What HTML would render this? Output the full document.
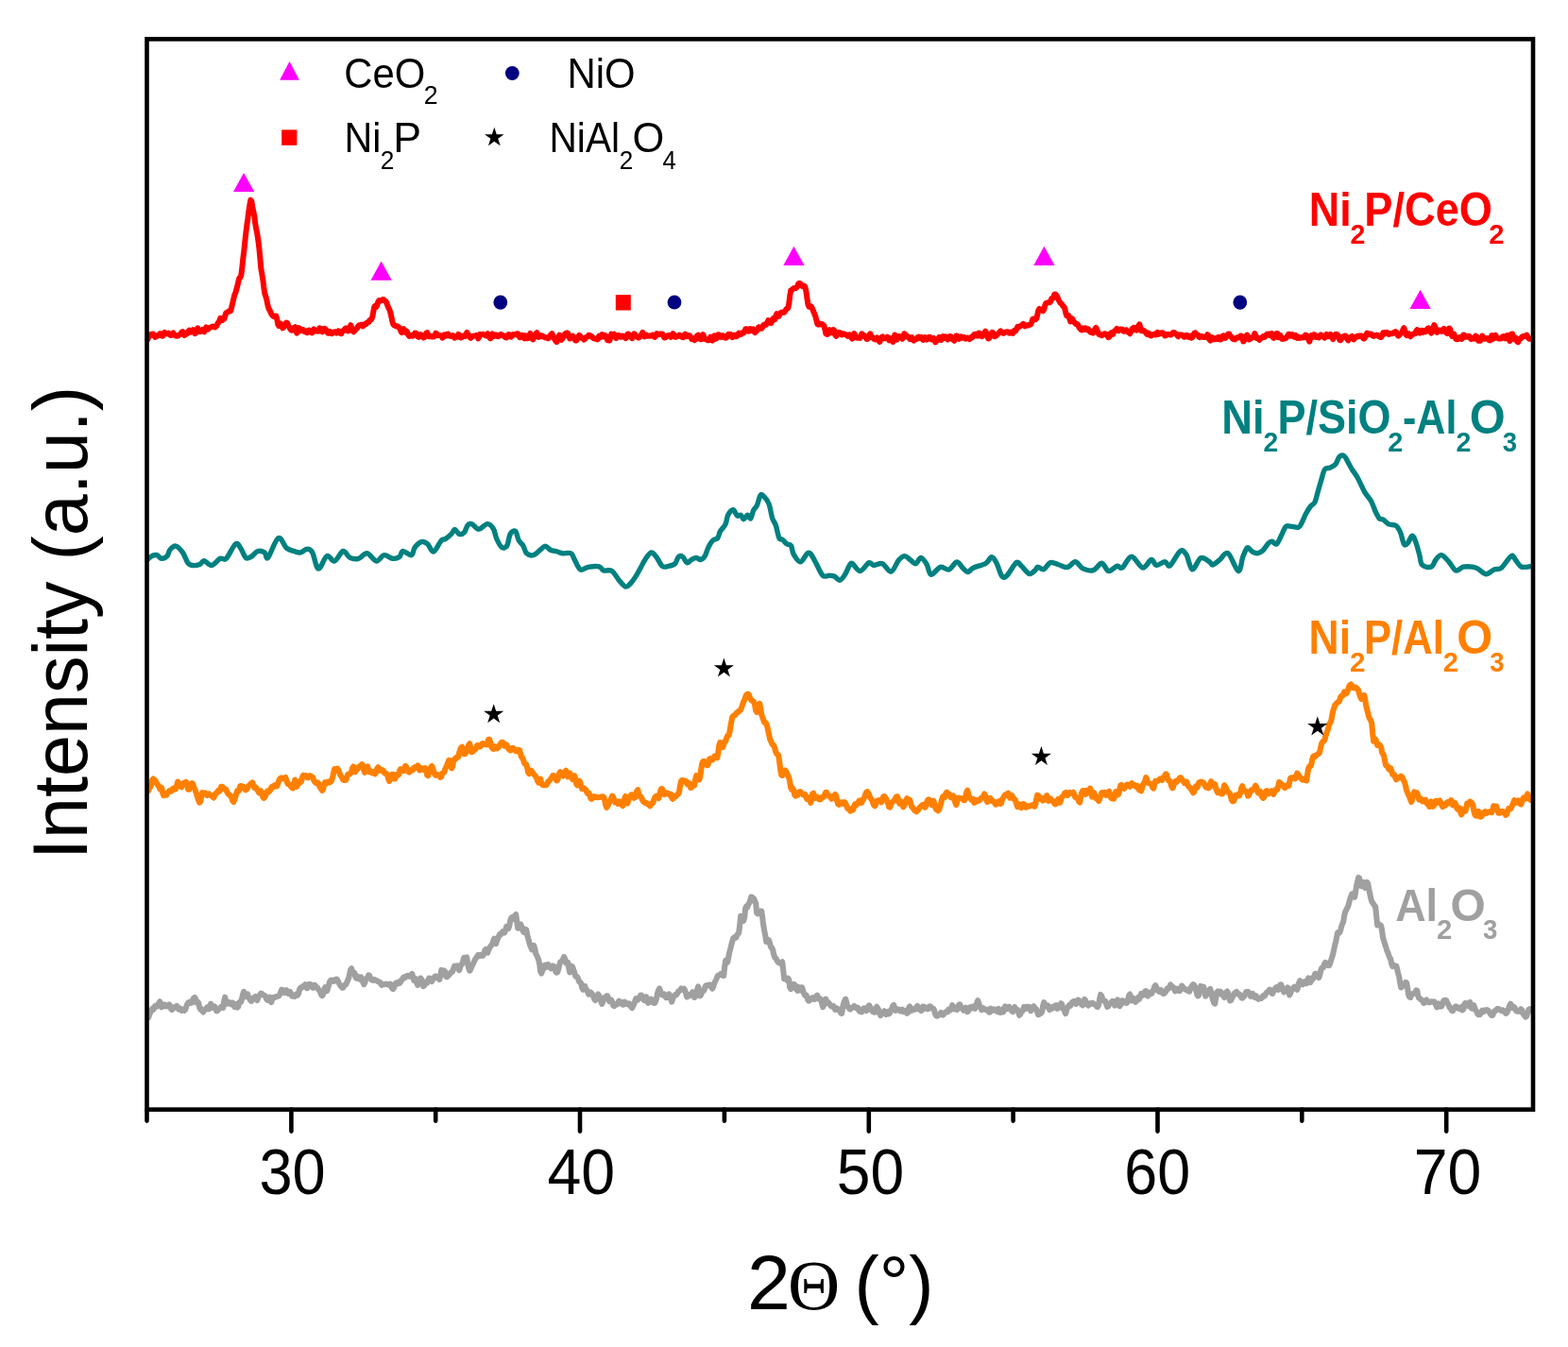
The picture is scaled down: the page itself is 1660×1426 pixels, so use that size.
<!DOCTYPE html>
<html><head><meta charset="utf-8"><title>XRD patterns</title>
<style>html,body{margin:0;padding:0;background:#fff;}svg{display:block;}</style>
</head><body>
<svg width="1660" height="1426" viewBox="0 0 1660 1426">
<rect width="1660" height="1426" fill="#fff"/>
<path d="M157.2,1077.2L158.2,1073.8 159.2,1072.0 160.2,1069.2 161.2,1067.8 162.2,1068.8 163.2,1066.8 164.2,1064.9 165.2,1065.9 166.2,1065.6 167.2,1063.8 168.2,1061.9 169.2,1060.3 170.2,1063.2 171.2,1066.2 172.2,1065.5 173.2,1063.4 174.2,1063.5 175.2,1065.1 176.2,1065.5 177.2,1064.8 178.2,1063.6 179.2,1063.3 180.2,1065.4 181.2,1068.4 182.2,1068.9 183.2,1067.7 184.2,1066.3 185.2,1065.9 186.2,1066.4 187.2,1064.9 188.2,1066.7 189.2,1068.6 190.2,1067.2 191.2,1068.9 192.2,1069.8 193.2,1068.5 194.2,1068.9 195.2,1069.9 196.2,1068.9 197.2,1065.8 198.2,1063.1 199.2,1061.6 200.2,1060.9 201.2,1061.0 202.2,1061.8 203.2,1061.4 204.2,1058.0 205.2,1056.4 206.2,1055.9 207.2,1057.7 208.2,1061.5 209.2,1060.6 210.2,1061.8 211.2,1066.7 212.2,1068.6 213.2,1068.1 214.2,1070.2 215.2,1071.4 216.2,1069.3 217.2,1069.1 218.2,1068.4 219.2,1066.3 220.2,1066.0 221.2,1068.2 222.2,1066.4 223.2,1062.6 224.2,1064.6 225.2,1066.7 226.2,1065.1 227.2,1065.4 228.2,1067.5 229.2,1070.3 230.2,1070.0 231.2,1068.8 232.2,1067.8 233.2,1067.1 234.2,1065.8 235.2,1066.5 236.2,1066.9 237.2,1060.0 238.2,1055.7 239.2,1059.8 240.2,1062.6 241.2,1062.3 242.2,1061.0 243.2,1061.2 244.2,1062.9 245.2,1063.3 246.2,1061.5 247.2,1062.6 248.2,1065.8 249.2,1064.1 250.2,1063.2 251.2,1066.6 252.2,1065.7 253.2,1061.3 254.2,1060.5 255.2,1060.6 256.2,1056.9 257.2,1052.5 258.2,1049.8 259.2,1052.4 260.2,1055.2 261.2,1053.4 262.2,1052.5 263.2,1055.4 264.2,1057.5 265.2,1059.2 266.2,1059.8 267.2,1058.1 268.2,1056.9 269.2,1055.7 270.2,1055.0 271.2,1057.6 272.2,1059.0 273.2,1056.7 274.2,1054.4 275.2,1053.1 276.2,1051.7 277.2,1052.0 278.2,1053.1 279.2,1053.8 280.2,1053.9 281.2,1054.8 282.2,1057.8 283.2,1058.7 284.2,1056.0 285.2,1055.7 286.2,1059.5 287.2,1061.0 288.2,1058.0 289.2,1055.8 290.2,1056.1 291.2,1056.0 292.2,1055.1 293.2,1055.0 294.2,1054.7 295.2,1054.3 296.2,1053.0 297.2,1050.0 298.2,1047.7 299.2,1047.9 300.2,1049.8 301.2,1051.0 302.2,1049.7 303.2,1048.1 304.2,1050.1 305.2,1051.9 306.2,1050.9 307.2,1050.1 308.2,1051.9 309.2,1054.7 310.2,1054.7 311.2,1053.7 312.2,1054.8 313.2,1053.6 314.2,1052.3 315.2,1053.5 316.2,1051.3 317.2,1047.0 318.2,1045.7 319.2,1045.9 320.2,1044.4 321.2,1044.8 322.2,1044.2 323.2,1042.1 324.2,1043.9 325.2,1046.2 326.2,1044.1 327.2,1041.8 328.2,1041.8 329.2,1042.4 330.2,1044.3 331.2,1045.7 332.2,1044.5 333.2,1042.8 334.2,1043.9 335.2,1045.7 336.2,1045.8 337.2,1047.5 338.2,1048.8 339.2,1050.5 340.2,1053.3 341.2,1054.1 342.2,1052.6 343.2,1047.4 344.2,1045.1 345.2,1049.1 346.2,1049.1 347.2,1045.8 348.2,1042.3 349.2,1038.9 350.2,1037.7 351.2,1037.5 352.2,1038.2 353.2,1038.8 354.2,1037.2 355.2,1037.0 356.2,1036.5 357.2,1037.5 358.2,1039.4 359.2,1041.6 360.2,1043.1 361.2,1044.1 362.2,1045.6 363.2,1045.7 364.2,1043.6 365.2,1042.5 366.2,1042.1 367.2,1040.0 368.2,1037.6 369.2,1035.4 370.2,1031.0 371.2,1026.3 372.2,1025.3 373.2,1029.3 374.2,1029.9 375.2,1029.8 376.2,1033.8 377.2,1035.6 378.2,1033.5 379.2,1034.1 380.2,1036.6 381.2,1036.6 382.2,1034.4 383.2,1035.8 384.2,1039.8 385.2,1042.2 386.2,1040.5 387.2,1036.7 388.2,1035.8 389.2,1035.0 390.2,1032.3 391.2,1032.8 392.2,1036.2 393.2,1037.2 394.2,1037.6 395.2,1037.9 396.2,1036.8 397.2,1037.4 398.2,1038.1 399.2,1038.3 400.2,1039.2 401.2,1039.5 402.2,1039.7 403.2,1041.6 404.2,1042.9 405.2,1041.8 406.2,1042.2 407.2,1042.2 408.2,1041.6 409.2,1041.7 410.2,1042.0 411.2,1042.7 412.2,1041.7 413.2,1041.6 414.2,1044.3 415.2,1046.5 416.2,1047.0 417.2,1045.4 418.2,1042.1 419.2,1040.5 420.2,1041.8 421.2,1041.0 422.2,1039.6 423.2,1040.7 424.2,1039.4 425.2,1037.3 426.2,1036.6 427.2,1034.5 428.2,1034.4 429.2,1034.9 430.2,1033.4 431.2,1032.8 432.2,1033.1 433.2,1033.8 434.2,1033.4 435.2,1031.7 436.2,1031.0 437.2,1033.9 438.2,1038.0 439.2,1037.3 440.2,1036.3 441.2,1040.3 442.2,1042.8 443.2,1041.9 444.2,1039.6 445.2,1035.5 446.2,1036.7 447.2,1041.3 448.2,1044.1 449.2,1043.3 450.2,1039.6 451.2,1039.4 452.2,1040.6 453.2,1038.2 454.2,1035.6 455.2,1035.8 456.2,1038.1 457.2,1038.9 458.2,1037.1 459.2,1035.3 460.2,1033.9 461.2,1033.3 462.2,1034.1 463.2,1035.5 464.2,1035.7 465.2,1037.1 466.2,1032.9 467.2,1026.9 468.2,1029.5 469.2,1030.3 470.2,1027.5 471.2,1028.6 472.2,1033.8 473.2,1034.2 474.2,1032.7 475.2,1032.4 476.2,1031.1 477.2,1029.5 478.2,1029.3 479.2,1028.4 480.2,1025.2 481.2,1022.6 482.2,1024.2 483.2,1024.6 484.2,1022.3 485.2,1023.9 486.2,1027.2 487.2,1023.9 488.2,1021.2 489.2,1020.9 490.2,1017.7 491.2,1013.9 492.2,1013.8 493.2,1014.5 494.2,1013.6 495.2,1019.6 496.2,1025.2 497.2,1027.7 498.2,1026.2 499.2,1023.7 500.2,1021.6 501.2,1019.8 502.2,1017.6 503.2,1015.3 504.2,1014.2 505.2,1012.3 506.2,1011.1 507.2,1012.3 508.2,1012.1 509.2,1010.9 510.2,1011.3 511.2,1011.8 512.2,1010.0 513.2,1006.3 514.2,1005.0 515.2,1007.7 516.2,1008.6 517.2,1005.9 518.2,1003.5 519.2,1002.1 520.2,1000.7 521.2,999.5 522.2,996.0 523.2,993.6 524.2,997.3 525.2,999.0 526.2,995.2 527.2,993.5 528.2,990.9 529.2,988.9 530.2,989.2 531.2,988.0 532.2,986.2 533.2,986.5 534.2,987.3 535.2,984.1 536.2,980.9 537.2,981.2 538.2,983.1 539.2,980.4 540.2,974.8 541.2,971.8 542.2,971.0 543.2,972.9 544.2,973.2 545.2,969.3 546.2,968.1 547.2,975.1 548.2,982.7 549.2,982.5 550.2,980.3 551.2,978.5 552.2,980.8 553.2,984.3 554.2,986.7 555.2,987.1 556.2,983.7 557.2,984.2 558.2,989.7 559.2,993.6 560.2,997.2 561.2,1001.0 562.2,1003.0 563.2,1005.4 564.2,1004.2 565.2,1001.0 566.2,1004.1 567.2,1009.6 568.2,1011.3 569.2,1013.7 570.2,1016.0 571.2,1020.9 572.2,1028.4 573.2,1030.5 574.2,1027.7 575.2,1025.6 576.2,1022.1 577.2,1021.7 578.2,1024.0 579.2,1022.7 580.2,1021.0 581.2,1022.4 582.2,1024.2 583.2,1025.3 584.2,1024.2 585.2,1022.4 586.2,1022.9 587.2,1025.0 588.2,1028.5 589.2,1029.6 590.2,1029.2 591.2,1026.0 592.2,1021.4 593.2,1018.4 594.2,1017.9 595.2,1017.0 596.2,1015.0 597.2,1012.9 598.2,1015.2 599.2,1019.7 600.2,1018.6 601.2,1018.8 602.2,1024.7 603.2,1029.5 604.2,1027.8 605.2,1022.8 606.2,1023.6 607.2,1026.7 608.2,1029.6 609.2,1033.3 610.2,1034.1 611.2,1034.2 612.2,1036.7 613.2,1039.3 614.2,1039.9 615.2,1041.2 616.2,1045.8 617.2,1047.7 618.2,1044.7 619.2,1044.0 620.2,1046.9 621.2,1047.9 622.2,1050.2 623.2,1052.7 624.2,1051.3 625.2,1050.5 626.2,1051.5 627.2,1052.6 628.2,1054.9 629.2,1057.7 630.2,1059.1 631.2,1057.7 632.2,1054.5 633.2,1052.5 634.2,1054.1 635.2,1056.1 636.2,1059.6 637.2,1062.9 638.2,1060.9 639.2,1057.7 640.2,1055.8 641.2,1055.6 642.2,1054.4 643.2,1054.4 644.2,1057.5 645.2,1060.1 646.2,1059.4 647.2,1058.7 648.2,1061.0 649.2,1064.4 650.2,1065.1 651.2,1064.0 652.2,1063.6 653.2,1063.3 654.2,1061.4 655.2,1059.7 656.2,1061.7 657.2,1062.2 658.2,1061.1 659.2,1063.6 660.2,1063.6 661.2,1060.7 662.2,1061.1 663.2,1062.4 664.2,1063.3 665.2,1063.5 666.2,1062.6 667.2,1063.7 668.2,1066.2 669.2,1067.2 670.2,1065.0 671.2,1062.9 672.2,1060.1 673.2,1057.1 674.2,1058.9 675.2,1058.4 676.2,1056.3 677.2,1055.7 678.2,1053.6 679.2,1053.5 680.2,1056.1 681.2,1058.2 682.2,1059.1 683.2,1057.2 684.2,1055.2 685.2,1057.9 686.2,1061.8 687.2,1061.1 688.2,1058.5 689.2,1057.7 690.2,1058.5 691.2,1061.2 692.2,1061.9 693.2,1062.0 694.2,1060.0 695.2,1055.6 696.2,1051.1 697.2,1047.9 698.2,1046.5 699.2,1049.1 700.2,1052.5 701.2,1053.3 702.2,1052.6 703.2,1052.4 704.2,1054.8 705.2,1056.1 706.2,1056.1 707.2,1054.7 708.2,1052.3 709.2,1053.3 710.2,1057.3 711.2,1060.6 712.2,1057.6 713.2,1054.9 714.2,1053.9 715.2,1052.9 716.2,1053.1 717.2,1051.5 718.2,1049.3 719.2,1049.3 720.2,1048.4 721.2,1046.5 722.2,1047.1 723.2,1047.1 724.2,1046.7 725.2,1048.5 726.2,1051.9 727.2,1055.5 728.2,1054.9 729.2,1053.3 730.2,1052.8 731.2,1053.6 732.2,1051.9 733.2,1050.2 734.2,1052.3 735.2,1056.0 736.2,1054.8 737.2,1052.3 738.2,1047.5 739.2,1044.3 740.2,1050.2 741.2,1054.4 742.2,1053.2 743.2,1050.0 744.2,1048.9 745.2,1048.7 746.2,1045.6 747.2,1043.4 748.2,1043.1 749.2,1043.5 750.2,1043.0 751.2,1042.4 752.2,1042.9 753.2,1044.9 754.2,1046.6 755.2,1044.3 756.2,1040.8 757.2,1038.8 758.2,1036.9 759.2,1034.3 760.2,1032.7 761.2,1032.4 762.2,1032.0 763.2,1030.9 764.2,1030.9 765.2,1032.8 766.2,1032.9 767.2,1023.6 768.2,1016.8 769.2,1018.2 770.2,1018.7 771.2,1013.7 772.2,1008.5 773.2,1004.7 774.2,1000.6 775.2,997.0 776.2,993.3 777.2,992.4 778.2,993.0 779.2,992.5 780.2,990.2 781.2,988.6 782.2,987.7 783.2,979.3 784.2,969.9 785.2,970.9 786.2,972.2 787.2,974.8 788.2,971.1 789.2,961.4 790.2,959.5 791.2,960.5 792.2,957.5 793.2,956.1 794.2,953.4 795.2,949.6 796.2,949.8 797.2,950.7 798.2,951.6 799.2,954.0 800.2,956.4 801.2,966.7 802.2,967.3 803.2,966.0 804.2,965.7 805.2,964.6 806.2,964.5 807.2,971.3 808.2,979.5 809.2,985.2 810.2,990.4 811.2,997.0 812.2,996.9 813.2,994.7 814.2,995.7 815.2,999.7 816.2,1002.8 817.2,1003.4 818.2,1005.7 819.2,1010.6 820.2,1013.4 821.2,1014.5 822.2,1015.7 823.2,1017.9 824.2,1018.9 825.2,1019.4 826.2,1020.0 827.2,1019.1 828.2,1018.3 829.2,1026.8 830.2,1036.2 831.2,1035.4 832.2,1036.5 833.2,1037.7 834.2,1035.6 835.2,1036.9 836.2,1045.3 837.2,1047.1 838.2,1045.2 839.2,1044.1 840.2,1041.9 841.2,1042.3 842.2,1043.6 843.2,1047.6 844.2,1048.7 845.2,1044.9 846.2,1046.3 847.2,1048.5 848.2,1045.3 849.2,1045.4 850.2,1049.4 851.2,1052.0 852.2,1053.8 853.2,1053.3 854.2,1054.8 855.2,1058.5 856.2,1059.6 857.2,1059.0 858.2,1058.2 859.2,1057.0 860.2,1056.2 861.2,1056.7 862.2,1058.1 863.2,1056.8 864.2,1054.3 865.2,1053.7 866.2,1056.0 867.2,1057.6 868.2,1057.2 869.2,1058.1 870.2,1062.6 871.2,1066.1 872.2,1064.1 873.2,1060.5 874.2,1057.7 875.2,1059.6 876.2,1061.9 877.2,1061.5 878.2,1062.9 879.2,1064.4 880.2,1065.4 881.2,1065.7 882.2,1064.9 883.2,1066.1 884.2,1068.9 885.2,1067.7 886.2,1067.3 887.2,1068.9 888.2,1069.8 889.2,1069.9 890.2,1072.4 891.2,1072.9 892.2,1066.2 893.2,1062.0 894.2,1059.4 895.2,1057.6 896.2,1061.0 897.2,1065.6 898.2,1066.3 899.2,1067.9 900.2,1068.6 901.2,1066.9 902.2,1067.0 903.2,1066.1 904.2,1065.1 905.2,1066.3 906.2,1067.1 907.2,1066.3 908.2,1066.9 909.2,1069.7 910.2,1070.9 911.2,1070.9 912.2,1071.3 913.2,1069.3 914.2,1067.4 915.2,1067.2 916.2,1068.9 917.2,1070.2 918.2,1068.9 919.2,1065.7 920.2,1064.4 921.2,1066.0 922.2,1067.7 923.2,1070.2 924.2,1071.2 925.2,1071.5 926.2,1071.7 927.2,1067.8 928.2,1065.7 929.2,1067.4 930.2,1069.1 931.2,1072.8 932.2,1075.0 933.2,1073.5 934.2,1072.8 935.2,1072.0 936.2,1070.3 937.2,1071.5 938.2,1074.0 939.2,1071.9 940.2,1070.9 941.2,1073.3 942.2,1072.0 943.2,1069.6 944.2,1067.7 945.2,1065.0 946.2,1064.0 947.2,1067.0 948.2,1069.9 949.2,1068.8 950.2,1068.3 951.2,1068.7 952.2,1068.8 953.2,1070.4 954.2,1069.7 955.2,1068.8 956.2,1071.0 957.2,1071.2 958.2,1069.9 959.2,1070.7 960.2,1072.8 961.2,1072.1 962.2,1066.7 963.2,1065.5 964.2,1070.1 965.2,1069.8 966.2,1068.0 967.2,1068.4 968.2,1068.8 969.2,1068.4 970.2,1066.3 971.2,1064.9 972.2,1066.3 973.2,1068.7 974.2,1069.1 975.2,1070.0 976.2,1069.3 977.2,1065.6 978.2,1065.8 979.2,1067.6 980.2,1067.0 981.2,1066.8 982.2,1068.3 983.2,1067.8 984.2,1065.4 985.2,1065.5 986.2,1066.8 987.2,1067.7 988.2,1067.8 989.2,1069.9 990.2,1074.0 991.2,1075.3 992.2,1075.7 993.2,1075.1 994.2,1074.4 995.2,1073.1 996.2,1071.9 997.2,1073.3 998.2,1074.6 999.2,1073.6 1000.2,1072.6 1001.2,1071.4 1002.2,1071.3 1003.2,1071.3 1004.2,1068.7 1005.2,1068.3 1006.2,1069.2 1007.2,1067.2 1008.2,1064.2 1009.2,1065.6 1010.2,1068.3 1011.2,1067.2 1012.2,1067.4 1013.2,1069.0 1014.2,1067.2 1015.2,1063.5 1016.2,1063.4 1017.2,1066.1 1018.2,1067.2 1019.2,1068.1 1020.2,1069.7 1021.2,1069.3 1022.2,1066.7 1023.2,1067.6 1024.2,1071.1 1025.2,1070.5 1026.2,1066.8 1027.2,1066.2 1028.2,1067.6 1029.2,1066.0 1030.2,1065.4 1031.2,1067.5 1032.2,1067.8 1033.2,1066.0 1034.2,1061.7 1035.2,1059.2 1036.2,1062.1 1037.2,1065.0 1038.2,1066.7 1039.2,1069.1 1040.2,1068.6 1041.2,1067.3 1042.2,1068.6 1043.2,1068.8 1044.2,1069.3 1045.2,1069.7 1046.2,1068.8 1047.2,1071.6 1048.2,1071.5 1049.2,1067.7 1050.2,1068.4 1051.2,1069.5 1052.2,1068.5 1053.2,1068.6 1054.2,1069.7 1055.2,1070.7 1056.2,1069.0 1057.2,1067.9 1058.2,1071.7 1059.2,1071.9 1060.2,1069.4 1061.2,1071.4 1062.2,1071.4 1063.2,1066.8 1064.2,1065.4 1065.2,1067.1 1066.2,1068.0 1067.2,1066.3 1068.2,1065.8 1069.2,1068.0 1070.2,1068.4 1071.2,1070.2 1072.2,1071.1 1073.2,1067.1 1074.2,1066.0 1075.2,1068.3 1076.2,1068.7 1077.2,1069.0 1078.2,1071.6 1079.2,1074.8 1080.2,1073.7 1081.2,1071.4 1082.2,1070.7 1083.2,1068.6 1084.2,1065.9 1085.2,1067.0 1086.2,1067.8 1087.2,1065.8 1088.2,1065.7 1089.2,1065.7 1090.2,1067.1 1091.2,1070.1 1092.2,1068.8 1093.2,1066.1 1094.2,1065.3 1095.2,1066.4 1096.2,1067.5 1097.2,1068.6 1098.2,1071.6 1099.2,1074.2 1100.2,1073.8 1101.2,1072.3 1102.2,1072.6 1103.2,1071.0 1104.2,1064.6 1105.2,1061.2 1106.2,1063.6 1107.2,1065.0 1108.2,1064.3 1109.2,1064.2 1110.2,1067.2 1111.2,1069.1 1112.2,1067.1 1113.2,1066.3 1114.2,1067.4 1115.2,1066.0 1116.2,1065.4 1117.2,1064.4 1118.2,1064.2 1119.2,1067.8 1120.2,1067.6 1121.2,1065.5 1122.2,1064.5 1123.2,1062.2 1124.2,1063.1 1125.2,1067.2 1126.2,1068.8 1127.2,1071.0 1128.2,1073.1 1129.2,1068.9 1130.2,1066.9 1131.2,1065.0 1132.2,1063.9 1133.2,1064.8 1134.2,1062.2 1135.2,1061.0 1136.2,1061.5 1137.2,1059.9 1138.2,1060.2 1139.2,1062.8 1140.2,1061.9 1141.2,1058.5 1142.2,1059.0 1143.2,1060.9 1144.2,1061.5 1145.2,1063.4 1146.2,1064.3 1147.2,1061.1 1148.2,1058.0 1149.2,1059.2 1150.2,1061.6 1151.2,1063.4 1152.2,1064.5 1153.2,1062.9 1154.2,1062.2 1155.2,1062.7 1156.2,1061.7 1157.2,1061.9 1158.2,1063.3 1159.2,1063.5 1160.2,1064.0 1161.2,1065.9 1162.2,1065.9 1163.2,1063.3 1164.2,1057.3 1165.2,1052.9 1166.2,1054.3 1167.2,1057.3 1168.2,1059.3 1169.2,1059.9 1170.2,1059.9 1171.2,1062.7 1172.2,1065.9 1173.2,1065.3 1174.2,1063.4 1175.2,1062.6 1176.2,1061.5 1177.2,1060.2 1178.2,1059.8 1179.2,1062.6 1180.2,1064.6 1181.2,1062.6 1182.2,1060.8 1183.2,1058.3 1184.2,1060.6 1185.2,1065.2 1186.2,1064.0 1187.2,1060.8 1188.2,1059.1 1189.2,1059.7 1190.2,1061.4 1191.2,1061.6 1192.2,1061.9 1193.2,1061.4 1194.2,1057.7 1195.2,1053.6 1196.2,1052.6 1197.2,1055.5 1198.2,1059.4 1199.2,1058.0 1200.2,1056.9 1201.2,1059.5 1202.2,1060.7 1203.2,1059.9 1204.2,1057.5 1205.2,1055.7 1206.2,1057.7 1207.2,1055.2 1208.2,1051.9 1209.2,1053.7 1210.2,1053.6 1211.2,1051.5 1212.2,1049.6 1213.2,1049.1 1214.2,1051.1 1215.2,1054.5 1216.2,1053.3 1217.2,1050.6 1218.2,1051.3 1219.2,1051.8 1220.2,1049.9 1221.2,1048.1 1222.2,1044.6 1223.2,1043.1 1224.2,1045.1 1225.2,1047.1 1226.2,1049.0 1227.2,1049.7 1228.2,1048.1 1229.2,1048.1 1230.2,1050.6 1231.2,1051.8 1232.2,1052.0 1233.2,1051.1 1234.2,1049.6 1235.2,1047.4 1236.2,1046.1 1237.2,1046.6 1238.2,1045.7 1239.2,1042.5 1240.2,1043.5 1241.2,1044.8 1242.2,1045.1 1243.2,1047.3 1244.2,1049.3 1245.2,1047.8 1246.2,1046.7 1247.2,1048.2 1248.2,1049.1 1249.2,1048.9 1250.2,1046.8 1251.2,1043.5 1252.2,1044.8 1253.2,1046.4 1254.2,1046.8 1255.2,1047.7 1256.2,1048.1 1257.2,1047.7 1258.2,1049.3 1259.2,1049.6 1260.2,1046.9 1261.2,1045.1 1262.2,1043.3 1263.2,1042.1 1264.2,1042.9 1265.2,1045.0 1266.2,1048.1 1267.2,1052.7 1268.2,1054.4 1269.2,1053.3 1270.2,1048.2 1271.2,1043.9 1272.2,1045.8 1273.2,1046.7 1274.2,1044.7 1275.2,1048.4 1276.2,1054.6 1277.2,1053.0 1278.2,1052.1 1279.2,1051.8 1280.2,1047.8 1281.2,1047.0 1282.2,1050.1 1283.2,1055.3 1284.2,1058.5 1285.2,1061.8 1286.2,1062.6 1287.2,1056.7 1288.2,1050.6 1289.2,1049.6 1290.2,1052.4 1291.2,1051.4 1292.2,1049.8 1293.2,1051.7 1294.2,1053.1 1295.2,1054.6 1296.2,1055.9 1297.2,1053.1 1298.2,1050.4 1299.2,1049.6 1300.2,1051.1 1301.2,1056.7 1302.2,1059.3 1303.2,1059.1 1304.2,1056.7 1305.2,1054.9 1306.2,1053.0 1307.2,1051.0 1308.2,1051.2 1309.2,1049.9 1310.2,1051.3 1311.2,1052.7 1312.2,1052.6 1313.2,1054.2 1314.2,1056.2 1315.2,1056.6 1316.2,1055.5 1317.2,1054.7 1318.2,1052.2 1319.2,1050.0 1320.2,1050.1 1321.2,1049.8 1322.2,1050.9 1323.2,1053.5 1324.2,1054.8 1325.2,1052.7 1326.2,1051.9 1327.2,1055.0 1328.2,1055.7 1329.2,1054.0 1330.2,1054.6 1331.2,1057.1 1332.2,1057.8 1333.2,1057.0 1334.2,1056.8 1335.2,1057.0 1336.2,1055.3 1337.2,1054.2 1338.2,1054.8 1339.2,1054.1 1340.2,1051.6 1341.2,1050.4 1342.2,1050.1 1343.2,1049.0 1344.2,1047.6 1345.2,1048.0 1346.2,1051.4 1347.2,1051.9 1348.2,1049.2 1349.2,1048.1 1350.2,1046.2 1351.2,1045.2 1352.2,1046.5 1353.2,1047.8 1354.2,1046.3 1355.2,1042.5 1356.2,1042.4 1357.2,1044.9 1358.2,1047.5 1359.2,1050.3 1360.2,1048.7 1361.2,1048.6 1362.2,1049.1 1363.2,1045.4 1364.2,1048.2 1365.2,1053.5 1366.2,1051.4 1367.2,1048.7 1368.2,1047.4 1369.2,1045.8 1370.2,1044.7 1371.2,1044.6 1372.2,1046.8 1373.2,1047.7 1374.2,1045.1 1375.2,1040.4 1376.2,1038.3 1377.2,1039.7 1378.2,1041.6 1379.2,1042.2 1380.2,1039.7 1381.2,1039.1 1382.2,1041.0 1383.2,1041.2 1384.2,1038.6 1385.2,1035.3 1386.2,1036.6 1387.2,1040.1 1388.2,1038.1 1389.2,1035.5 1390.2,1036.2 1391.2,1034.2 1392.2,1030.9 1393.2,1030.8 1394.2,1032.1 1395.2,1032.8 1396.2,1035.0 1397.2,1032.7 1398.2,1027.6 1399.2,1024.8 1400.2,1024.6 1401.2,1023.8 1402.2,1020.1 1403.2,1018.9 1404.2,1020.6 1405.2,1021.2 1406.2,1022.2 1407.2,1022.0 1408.2,1019.7 1409.2,1016.3 1410.2,1013.4 1411.2,1009.9 1412.2,1005.3 1413.2,1000.3 1414.2,996.9 1415.2,991.5 1416.2,987.3 1417.2,988.1 1418.2,987.5 1419.2,984.9 1420.2,980.6 1421.2,978.0 1422.2,975.7 1423.2,969.2 1424.2,965.2 1425.2,963.4 1426.2,961.2 1427.2,959.4 1428.2,955.8 1429.2,952.0 1430.2,949.1 1431.2,946.6 1432.2,946.1 1433.2,948.5 1434.2,949.8 1435.2,943.7 1436.2,937.2 1437.2,933.4 1438.2,929.0 1439.2,929.7 1440.2,935.8 1441.2,938.1 1442.2,934.5 1443.2,934.0 1444.2,938.2 1445.2,939.8 1446.2,937.2 1447.2,934.0 1448.2,935.5 1449.2,941.0 1450.2,945.9 1451.2,950.6 1452.2,954.3 1453.2,955.7 1454.2,957.3 1455.2,958.6 1456.2,960.2 1457.2,969.9 1458.2,979.4 1459.2,978.7 1460.2,978.6 1461.2,979.4 1462.2,980.2 1463.2,986.3 1464.2,993.3 1465.2,996.3 1466.2,999.5 1467.2,1002.5 1468.2,1006.0 1469.2,1008.4 1470.2,1010.9 1471.2,1013.9 1472.2,1015.0 1473.2,1020.4 1474.2,1023.0 1475.2,1021.4 1476.2,1022.4 1477.2,1023.2 1478.2,1022.6 1479.2,1026.1 1480.2,1030.5 1481.2,1033.9 1482.2,1040.5 1483.2,1045.4 1484.2,1044.7 1485.2,1042.4 1486.2,1042.6 1487.2,1041.4 1488.2,1039.9 1489.2,1040.5 1490.2,1046.4 1491.2,1053.3 1492.2,1055.5 1493.2,1055.9 1494.2,1053.7 1495.2,1052.0 1496.2,1051.9 1497.2,1051.6 1498.2,1050.7 1499.2,1048.3 1500.2,1048.6 1501.2,1054.1 1502.2,1056.7 1503.2,1057.0 1504.2,1058.1 1505.2,1058.5 1506.2,1059.9 1507.2,1061.9 1508.2,1061.4 1509.2,1059.4 1510.2,1058.4 1511.2,1059.6 1512.2,1061.0 1513.2,1061.3 1514.2,1060.8 1515.2,1060.4 1516.2,1060.8 1517.2,1060.4 1518.2,1060.2 1519.2,1061.4 1520.2,1064.1 1521.2,1066.3 1522.2,1064.8 1523.2,1062.5 1524.2,1063.7 1525.2,1065.6 1526.2,1065.3 1527.2,1062.7 1528.2,1059.6 1529.2,1058.7 1530.2,1058.8 1531.2,1059.3 1532.2,1061.4 1533.2,1063.3 1534.2,1065.3 1535.2,1067.4 1536.2,1068.2 1537.2,1070.1 1538.2,1070.1 1539.2,1067.7 1540.2,1066.2 1541.2,1065.4 1542.2,1065.7 1543.2,1067.1 1544.2,1067.8 1545.2,1068.0 1546.2,1066.5 1547.2,1066.0 1548.2,1069.3 1549.2,1068.5 1550.2,1063.4 1551.2,1061.9 1552.2,1063.1 1553.2,1064.6 1554.2,1065.1 1555.2,1061.7 1556.2,1061.0 1557.2,1066.5 1558.2,1067.4 1559.2,1064.7 1560.2,1064.2 1561.2,1066.8 1562.2,1069.4 1563.2,1070.8 1564.2,1073.1 1565.2,1074.2 1566.2,1074.2 1567.2,1073.7 1568.2,1071.7 1569.2,1069.7 1570.2,1071.1 1571.2,1070.9 1572.2,1069.4 1573.2,1069.6 1574.2,1069.1 1575.2,1069.5 1576.2,1070.6 1577.2,1072.3 1578.2,1074.0 1579.2,1074.9 1580.2,1074.9 1581.2,1072.4 1582.2,1070.3 1583.2,1070.2 1584.2,1068.8 1585.2,1067.8 1586.2,1068.3 1587.2,1068.3 1588.2,1069.0 1589.2,1069.9 1590.2,1069.3 1591.2,1069.5 1592.2,1070.5 1593.2,1071.9 1594.2,1072.9 1595.2,1072.3 1596.2,1070.2 1597.2,1067.3 1598.2,1064.7 1599.2,1062.7 1600.2,1064.3 1601.2,1067.0 1602.2,1067.2 1603.2,1066.3 1604.2,1067.9 1605.2,1070.2 1606.2,1070.6 1607.2,1070.5 1608.2,1070.7 1609.2,1070.2 1610.2,1068.3 1611.2,1069.1 1612.2,1072.9 1613.2,1074.1 1614.2,1075.4 1615.2,1076.7 1616.2,1075.7 1617.2,1072.5 1618.2,1069.0 1619.2,1068.3 1620.2,1069.7" fill="none" stroke="#a0a0a0" stroke-width="6.1" stroke-linejoin="round" stroke-linecap="round"/>
<path d="M157.2,837.1L158.2,834.0 159.2,833.2 160.2,830.2 161.2,825.6 162.2,824.6 163.2,825.8 164.2,826.2 165.2,827.8 166.2,829.9 167.2,831.2 168.2,832.6 169.2,835.3 170.2,834.0 171.2,833.9 172.2,839.7 173.2,842.2 174.2,841.0 175.2,841.8 176.2,841.8 177.2,839.9 178.2,838.4 179.2,837.2 180.2,837.0 181.2,837.7 182.2,835.7 183.2,834.8 184.2,835.9 185.2,835.6 186.2,835.1 187.2,831.7 188.2,827.5 189.2,829.4 190.2,831.6 191.2,832.4 192.2,833.3 193.2,831.4 194.2,829.0 195.2,828.5 196.2,829.2 197.2,828.0 198.2,830.0 199.2,835.8 200.2,835.8 201.2,833.2 202.2,831.5 203.2,829.1 204.2,829.8 205.2,833.3 206.2,835.0 207.2,838.1 208.2,841.1 209.2,844.4 210.2,847.1 211.2,849.6 212.2,848.6 213.2,843.0 214.2,839.1 215.2,839.7 216.2,840.3 217.2,839.5 218.2,840.8 219.2,842.0 220.2,840.7 221.2,840.4 222.2,841.6 223.2,842.1 224.2,842.5 225.2,843.5 226.2,844.5 227.2,842.4 228.2,839.9 229.2,839.7 230.2,838.1 231.2,836.6 232.2,837.7 233.2,836.4 234.2,832.8 235.2,832.9 236.2,833.7 237.2,834.4 238.2,835.6 239.2,835.8 240.2,838.1 241.2,840.0 242.2,840.9 243.2,841.9 244.2,842.6 245.2,844.4 246.2,847.7 247.2,849.0 248.2,846.8 249.2,843.5 250.2,840.1 251.2,837.2 252.2,837.9 253.2,836.8 254.2,832.3 255.2,832.1 256.2,833.5 257.2,832.6 258.2,833.2 259.2,835.4 260.2,836.4 261.2,835.6 262.2,834.0 263.2,832.1 264.2,831.0 265.2,830.2 266.2,828.9 267.2,828.5 268.2,831.4 269.2,833.8 270.2,833.2 271.2,834.2 272.2,836.1 273.2,837.5 274.2,839.3 275.2,838.9 276.2,837.2 277.2,839.1 278.2,843.7 279.2,844.9 280.2,844.1 281.2,842.1 282.2,838.8 283.2,837.4 284.2,838.3 285.2,837.7 286.2,836.4 287.2,833.8 288.2,832.6 289.2,833.2 290.2,831.6 291.2,831.0 292.2,832.5 293.2,832.3 294.2,829.9 295.2,826.8 296.2,824.6 297.2,823.7 298.2,823.4 299.2,824.0 300.2,824.4 301.2,823.9 302.2,823.1 303.2,825.6 304.2,829.2 305.2,830.0 306.2,830.1 307.2,831.6 308.2,832.8 309.2,833.9 310.2,834.4 311.2,830.7 312.2,825.5 313.2,829.2 314.2,832.8 315.2,828.5 316.2,827.4 317.2,828.8 318.2,828.2 319.2,826.6 320.2,822.5 321.2,820.7 322.2,821.8 323.2,821.1 324.2,821.1 325.2,823.1 326.2,823.4 327.2,821.9 328.2,821.1 329.2,821.7 330.2,822.2 331.2,823.1 332.2,825.9 333.2,827.7 334.2,828.8 335.2,829.2 336.2,828.5 337.2,829.5 338.2,832.3 339.2,834.2 340.2,835.5 341.2,836.9 342.2,835.2 343.2,830.2 344.2,828.2 345.2,829.4 346.2,829.2 347.2,827.6 348.2,827.3 349.2,828.2 350.2,827.5 351.2,825.7 352.2,822.9 353.2,817.7 354.2,814.2 355.2,814.5 356.2,814.1 357.2,813.6 358.2,815.1 359.2,817.9 360.2,820.5 361.2,821.9 362.2,823.3 363.2,825.5 364.2,825.9 365.2,826.0 366.2,825.7 367.2,823.1 368.2,819.8 369.2,819.6 370.2,819.5 371.2,818.6 372.2,816.2 373.2,812.8 374.2,811.6 375.2,815.4 376.2,817.2 377.2,815.2 378.2,814.4 379.2,813.3 380.2,811.4 381.2,811.5 382.2,810.5 383.2,809.1 384.2,811.7 385.2,815.1 386.2,817.9 387.2,816.4 388.2,811.7 389.2,811.4 390.2,815.4 391.2,817.2 392.2,816.3 393.2,816.8 394.2,818.4 395.2,817.2 396.2,817.6 397.2,819.3 398.2,817.6 399.2,813.9 400.2,812.2 401.2,814.3 402.2,815.6 403.2,814.8 404.2,815.9 405.2,815.3 406.2,816.3 407.2,818.5 408.2,818.8 409.2,819.0 410.2,820.5 411.2,824.7 412.2,826.9 413.2,824.1 414.2,822.6 415.2,819.9 416.2,819.8 417.2,824.4 418.2,824.4 419.2,821.6 420.2,820.0 421.2,820.5 422.2,820.1 423.2,815.5 424.2,814.1 425.2,815.1 426.2,815.9 427.2,816.1 428.2,813.4 429.2,810.9 430.2,811.8 431.2,815.0 432.2,816.9 433.2,817.7 434.2,816.9 435.2,815.0 436.2,815.3 437.2,815.2 438.2,812.7 439.2,812.2 440.2,813.0 441.2,811.9 442.2,810.4 443.2,812.1 444.2,815.4 445.2,814.7 446.2,813.1 447.2,813.7 448.2,814.9 449.2,814.5 450.2,813.3 451.2,815.4 452.2,820.6 453.2,821.2 454.2,817.4 455.2,815.4 456.2,812.1 457.2,811.0 458.2,813.5 459.2,816.7 460.2,819.7 461.2,820.8 462.2,819.9 463.2,820.0 464.2,820.8 465.2,821.6 466.2,822.9 467.2,822.5 468.2,818.6 469.2,818.3 470.2,817.6 471.2,814.3 472.2,812.2 473.2,810.4 474.2,807.2 475.2,804.9 476.2,805.1 477.2,808.8 478.2,813.3 479.2,810.8 480.2,805.1 481.2,803.5 482.2,803.6 483.2,801.7 484.2,801.9 485.2,801.2 486.2,796.8 487.2,793.6 488.2,791.4 489.2,790.7 490.2,794.6 491.2,798.1 492.2,798.2 493.2,796.7 494.2,795.1 495.2,791.8 496.2,788.6 497.2,787.3 498.2,791.3 499.2,796.1 500.2,796.0 501.2,794.8 502.2,793.0 503.2,793.2 504.2,791.8 505.2,789.0 506.2,789.1 507.2,790.5 508.2,790.5 509.2,789.6 510.2,787.6 511.2,787.1 512.2,787.8 513.2,787.9 514.2,788.1 515.2,788.4 516.2,785.8 517.2,782.8 518.2,782.7 519.2,785.9 520.2,790.7 521.2,792.1 522.2,792.9 523.2,792.4 524.2,790.2 525.2,791.0 526.2,792.4 527.2,791.6 528.2,790.6 529.2,788.4 530.2,786.7 531.2,785.8 532.2,785.8 533.2,787.9 534.2,789.7 535.2,789.7 536.2,788.4 537.2,790.1 538.2,792.6 539.2,793.6 540.2,794.5 541.2,794.0 542.2,792.1 543.2,791.9 544.2,792.9 545.2,794.2 546.2,795.3 547.2,794.9 548.2,793.8 549.2,793.7 550.2,794.6 551.2,798.8 552.2,801.8 553.2,802.0 554.2,805.0 555.2,808.2 556.2,808.7 557.2,809.5 558.2,812.8 559.2,817.6 560.2,819.1 561.2,817.0 562.2,815.6 563.2,816.8 564.2,818.7 565.2,819.7 566.2,820.8 567.2,822.1 568.2,823.7 569.2,827.0 570.2,828.6 571.2,825.0 572.2,824.6 573.2,829.0 574.2,830.9 575.2,830.7 576.2,831.1 577.2,831.0 578.2,831.1 579.2,830.1 580.2,827.6 581.2,826.9 582.2,825.7 583.2,824.2 584.2,823.6 585.2,821.0 586.2,821.1 587.2,823.4 588.2,824.1 589.2,826.4 590.2,826.1 591.2,822.0 592.2,818.4 593.2,817.3 594.2,818.4 595.2,820.2 596.2,821.5 597.2,819.9 598.2,817.3 599.2,815.8 600.2,818.9 601.2,822.4 602.2,820.1 603.2,818.4 604.2,820.3 605.2,823.5 606.2,825.1 607.2,822.6 608.2,821.2 609.2,824.8 610.2,829.9 611.2,831.3 612.2,828.9 613.2,826.6 614.2,828.0 615.2,832.7 616.2,835.2 617.2,834.0 618.2,834.4 619.2,835.3 620.2,836.1 621.2,838.8 622.2,840.0 623.2,839.4 624.2,841.4 625.2,845.0 626.2,845.8 627.2,845.0 628.2,844.0 629.2,843.1 630.2,843.7 631.2,843.9 632.2,843.9 633.2,844.3 634.2,844.1 635.2,843.9 636.2,843.7 637.2,843.2 638.2,843.4 639.2,843.8 640.2,847.0 641.2,852.2 642.2,854.8 643.2,853.5 644.2,851.4 645.2,848.8 646.2,847.4 647.2,844.7 648.2,842.6 649.2,844.2 650.2,847.2 651.2,849.4 652.2,848.2 653.2,848.4 654.2,851.0 655.2,850.0 656.2,848.5 657.2,849.8 658.2,852.2 659.2,853.2 660.2,849.9 661.2,845.2 662.2,843.0 663.2,846.6 664.2,850.6 665.2,847.7 666.2,844.3 667.2,843.1 668.2,841.2 669.2,841.3 670.2,843.6 671.2,844.8 672.2,844.3 673.2,842.4 674.2,837.4 675.2,836.2 676.2,840.7 677.2,843.1 678.2,843.3 679.2,844.7 680.2,847.2 681.2,848.6 682.2,849.4 683.2,850.2 684.2,849.9 685.2,850.3 686.2,851.7 687.2,852.1 688.2,853.2 689.2,852.0 690.2,850.4 691.2,850.1 692.2,846.8 693.2,844.3 694.2,843.1 695.2,842.7 696.2,844.1 697.2,845.1 698.2,841.8 699.2,837.3 700.2,835.1 701.2,835.6 702.2,839.3 703.2,841.1 704.2,840.0 705.2,839.4 706.2,839.4 707.2,840.1 708.2,841.2 709.2,840.6 710.2,840.8 711.2,844.8 712.2,845.7 713.2,842.9 714.2,843.0 715.2,843.4 716.2,842.1 717.2,841.0 718.2,840.4 719.2,837.2 720.2,831.2 721.2,826.8 722.2,825.9 723.2,826.9 724.2,826.7 725.2,826.5 726.2,827.0 727.2,829.6 728.2,830.5 729.2,828.8 730.2,830.3 731.2,834.0 732.2,833.6 733.2,830.0 734.2,831.0 735.2,831.4 736.2,825.1 737.2,821.0 738.2,824.5 739.2,825.5 740.2,825.4 741.2,822.7 742.2,815.0 743.2,808.8 744.2,806.1 745.2,805.8 746.2,806.1 747.2,807.4 748.2,810.0 749.2,810.2 750.2,806.9 751.2,803.2 752.2,803.1 753.2,804.2 754.2,804.5 755.2,803.5 756.2,800.7 757.2,800.2 758.2,801.6 759.2,802.3 760.2,797.8 761.2,789.5 762.2,786.0 763.2,787.6 764.2,790.3 765.2,791.1 766.2,787.9 767.2,785.1 768.2,784.6 769.2,781.2 770.2,778.9 771.2,779.0 772.2,776.4 773.2,770.2 774.2,764.7 775.2,759.3 776.2,757.9 777.2,757.2 778.2,757.2 779.2,755.3 780.2,754.4 781.2,754.3 782.2,752.6 783.2,752.3 784.2,751.3 785.2,748.6 786.2,745.7 787.2,742.9 788.2,741.0 789.2,738.0 790.2,735.7 791.2,734.7 792.2,734.8 793.2,736.6 794.2,739.3 795.2,741.0 796.2,741.8 797.2,742.3 798.2,743.2 799.2,746.4 800.2,752.4 801.2,754.0 802.2,751.2 803.2,747.1 804.2,744.8 805.2,750.5 806.2,756.5 807.2,759.3 808.2,761.9 809.2,764.8 810.2,765.0 811.2,766.0 812.2,769.1 813.2,773.6 814.2,778.0 815.2,782.6 816.2,784.6 817.2,787.3 818.2,788.6 819.2,789.0 820.2,792.0 821.2,795.9 822.2,797.9 823.2,798.4 824.2,800.1 825.2,806.7 826.2,814.6 827.2,820.4 828.2,820.9 829.2,818.6 830.2,815.8 831.2,815.6 832.2,816.9 833.2,818.9 834.2,821.6 835.2,822.9 836.2,827.8 837.2,833.8 838.2,835.8 839.2,834.6 840.2,836.3 841.2,841.5 842.2,842.6 843.2,842.2 844.2,841.9 845.2,839.1 846.2,838.2 847.2,838.1 848.2,839.2 849.2,840.0 850.2,841.3 851.2,841.5 852.2,840.9 853.2,843.6 854.2,845.8 855.2,844.5 856.2,844.4 857.2,847.1 858.2,849.9 859.2,846.1 860.2,840.3 861.2,839.8 862.2,843.3 863.2,844.8 864.2,843.4 865.2,843.8 866.2,845.0 867.2,846.2 868.2,846.4 869.2,845.6 870.2,843.9 871.2,844.2 872.2,843.4 873.2,840.7 874.2,838.8 875.2,838.8 876.2,841.3 877.2,842.8 878.2,842.6 879.2,843.8 880.2,845.7 881.2,845.0 882.2,842.7 883.2,842.1 884.2,841.1 885.2,842.5 886.2,847.8 887.2,851.1 888.2,851.9 889.2,850.9 890.2,849.4 891.2,849.4 892.2,851.0 893.2,851.0 894.2,849.2 895.2,850.6 896.2,853.1 897.2,855.7 898.2,856.7 899.2,856.2 900.2,858.6 901.2,858.1 902.2,856.7 903.2,857.3 904.2,853.5 905.2,851.3 906.2,852.6 907.2,851.3 908.2,850.0 909.2,848.2 910.2,847.4 911.2,850.0 912.2,849.8 913.2,847.3 914.2,846.2 915.2,843.8 916.2,841.2 917.2,838.6 918.2,838.2 919.2,839.6 920.2,841.7 921.2,844.5 922.2,845.7 923.2,847.0 924.2,850.0 925.2,852.4 926.2,853.3 927.2,851.3 928.2,848.1 929.2,847.4 930.2,847.6 931.2,847.0 932.2,847.7 933.2,849.2 934.2,846.8 935.2,843.4 936.2,843.0 937.2,844.5 938.2,845.7 939.2,847.9 940.2,850.9 941.2,854.3 942.2,854.6 943.2,851.6 944.2,849.1 945.2,848.8 946.2,848.3 947.2,846.3 948.2,844.7 949.2,843.4 950.2,843.4 951.2,847.5 952.2,850.5 953.2,849.7 954.2,848.8 955.2,851.5 956.2,854.3 957.2,852.8 958.2,850.3 959.2,847.3 960.2,845.2 961.2,846.5 962.2,847.8 963.2,847.0 964.2,850.7 965.2,854.2 966.2,854.8 967.2,856.4 968.2,858.0 969.2,858.6 970.2,859.3 971.2,858.1 972.2,857.3 973.2,855.3 974.2,854.2 975.2,853.6 976.2,852.4 977.2,851.8 978.2,852.9 979.2,854.8 980.2,853.5 981.2,849.1 982.2,847.0 983.2,846.3 984.2,847.1 985.2,850.7 986.2,852.0 987.2,849.1 988.2,847.8 989.2,850.0 990.2,854.7 991.2,857.0 992.2,857.1 993.2,858.2 994.2,857.2 995.2,853.8 996.2,850.6 997.2,846.1 998.2,843.3 999.2,843.7 1000.2,843.9 1001.2,840.1 1002.2,838.6 1003.2,841.1 1004.2,841.4 1005.2,841.0 1006.2,843.7 1007.2,844.4 1008.2,843.3 1009.2,842.5 1010.2,843.7 1011.2,849.2 1012.2,852.1 1013.2,848.6 1014.2,845.2 1015.2,844.6 1016.2,845.1 1017.2,845.3 1018.2,845.3 1019.2,845.3 1020.2,847.1 1021.2,847.1 1022.2,843.3 1023.2,838.7 1024.2,836.8 1025.2,840.9 1026.2,844.0 1027.2,844.8 1028.2,846.6 1029.2,845.7 1030.2,846.0 1031.2,849.8 1032.2,849.6 1033.2,846.8 1034.2,847.4 1035.2,847.7 1036.2,847.8 1037.2,847.2 1038.2,845.3 1039.2,844.8 1040.2,844.6 1041.2,842.6 1042.2,840.5 1043.2,842.2 1044.2,847.0 1045.2,849.0 1046.2,847.3 1047.2,846.0 1048.2,845.0 1049.2,846.2 1050.2,848.3 1051.2,848.1 1052.2,848.4 1053.2,850.3 1054.2,851.7 1055.2,851.2 1056.2,849.9 1057.2,848.2 1058.2,848.1 1059.2,850.9 1060.2,850.1 1061.2,845.9 1062.2,844.6 1063.2,842.8 1064.2,841.2 1065.2,841.1 1066.2,840.4 1067.2,839.7 1068.2,842.5 1069.2,844.7 1070.2,842.7 1071.2,842.1 1072.2,844.5 1073.2,845.8 1074.2,846.2 1075.2,847.8 1076.2,851.3 1077.2,854.1 1078.2,853.2 1079.2,851.4 1080.2,853.2 1081.2,855.2 1082.2,853.2 1083.2,851.0 1084.2,851.3 1085.2,853.5 1086.2,854.8 1087.2,853.4 1088.2,853.4 1089.2,853.7 1090.2,853.0 1091.2,853.1 1092.2,852.4 1093.2,852.1 1094.2,852.8 1095.2,853.8 1096.2,851.8 1097.2,845.9 1098.2,841.8 1099.2,842.2 1100.2,844.9 1101.2,845.9 1102.2,844.7 1103.2,845.4 1104.2,847.5 1105.2,847.0 1106.2,845.4 1107.2,843.4 1108.2,842.2 1109.2,845.8 1110.2,847.9 1111.2,845.6 1112.2,845.4 1113.2,847.5 1114.2,847.5 1115.2,848.6 1116.2,850.5 1117.2,851.4 1118.2,851.0 1119.2,847.7 1120.2,846.0 1121.2,849.2 1122.2,849.6 1123.2,846.5 1124.2,843.6 1125.2,842.8 1126.2,841.7 1127.2,839.6 1128.2,839.0 1129.2,840.2 1130.2,842.1 1131.2,840.7 1132.2,838.9 1133.2,839.3 1134.2,839.7 1135.2,839.6 1136.2,838.8 1137.2,840.9 1138.2,843.8 1139.2,844.5 1140.2,844.5 1141.2,845.3 1142.2,848.5 1143.2,849.4 1144.2,843.6 1145.2,839.2 1146.2,837.0 1147.2,837.1 1148.2,840.4 1149.2,840.8 1150.2,836.8 1151.2,836.9 1152.2,839.5 1153.2,838.0 1154.2,834.6 1155.2,838.7 1156.2,843.6 1157.2,841.4 1158.2,839.3 1159.2,842.1 1160.2,845.2 1161.2,845.2 1162.2,846.6 1163.2,848.0 1164.2,845.7 1165.2,842.6 1166.2,839.3 1167.2,839.1 1168.2,840.0 1169.2,838.9 1170.2,840.2 1171.2,841.9 1172.2,840.8 1173.2,838.6 1174.2,837.8 1175.2,841.1 1176.2,844.6 1177.2,845.4 1178.2,845.2 1179.2,845.6 1180.2,843.0 1181.2,838.1 1182.2,838.0 1183.2,841.3 1184.2,840.7 1185.2,836.4 1186.2,831.5 1187.2,830.9 1188.2,832.5 1189.2,834.2 1190.2,834.8 1191.2,833.0 1192.2,831.5 1193.2,830.6 1194.2,830.8 1195.2,831.9 1196.2,832.7 1197.2,831.3 1198.2,829.1 1199.2,830.4 1200.2,831.1 1201.2,831.0 1202.2,832.5 1203.2,831.7 1204.2,831.9 1205.2,835.2 1206.2,836.5 1207.2,836.3 1208.2,837.2 1209.2,833.9 1210.2,830.1 1211.2,829.1 1212.2,826.6 1213.2,823.1 1214.2,825.2 1215.2,828.7 1216.2,829.1 1217.2,829.4 1218.2,830.1 1219.2,830.1 1220.2,833.7 1221.2,834.5 1222.2,829.8 1223.2,826.9 1224.2,827.1 1225.2,827.0 1226.2,826.4 1227.2,825.4 1228.2,824.5 1229.2,825.2 1230.2,825.9 1231.2,824.1 1232.2,822.5 1233.2,821.0 1234.2,819.4 1235.2,820.2 1236.2,824.1 1237.2,826.4 1238.2,826.3 1239.2,828.3 1240.2,832.2 1241.2,834.3 1242.2,832.7 1243.2,828.2 1244.2,827.2 1245.2,827.9 1246.2,827.4 1247.2,825.9 1248.2,824.5 1249.2,823.3 1250.2,823.2 1251.2,825.7 1252.2,826.5 1253.2,827.0 1254.2,829.2 1255.2,828.1 1256.2,827.6 1257.2,830.3 1258.2,832.6 1259.2,833.4 1260.2,834.2 1261.2,835.7 1262.2,837.5 1263.2,839.2 1264.2,838.3 1265.2,833.8 1266.2,832.3 1267.2,833.8 1268.2,832.2 1269.2,828.6 1270.2,828.1 1271.2,827.5 1272.2,828.2 1273.2,828.0 1274.2,828.6 1275.2,830.7 1276.2,832.8 1277.2,833.7 1278.2,833.6 1279.2,834.3 1280.2,833.7 1281.2,829.4 1282.2,827.2 1283.2,830.3 1284.2,831.4 1285.2,829.8 1286.2,830.3 1287.2,834.3 1288.2,837.4 1289.2,839.1 1290.2,838.7 1291.2,838.2 1292.2,839.0 1293.2,840.5 1294.2,840.4 1295.2,835.6 1296.2,831.3 1297.2,832.9 1298.2,834.6 1299.2,837.2 1300.2,839.0 1301.2,839.1 1302.2,840.3 1303.2,844.4 1304.2,847.7 1305.2,848.3 1306.2,847.9 1307.2,845.3 1308.2,841.9 1309.2,841.4 1310.2,841.7 1311.2,842.2 1312.2,842.4 1313.2,839.4 1314.2,834.4 1315.2,832.3 1316.2,835.4 1317.2,837.3 1318.2,837.4 1319.2,837.5 1320.2,839.8 1321.2,842.7 1322.2,841.9 1323.2,839.6 1324.2,837.0 1325.2,836.0 1326.2,836.2 1327.2,835.4 1328.2,833.7 1329.2,831.7 1330.2,833.5 1331.2,837.7 1332.2,839.5 1333.2,837.9 1334.2,837.8 1335.2,840.9 1336.2,843.7 1337.2,844.9 1338.2,844.1 1339.2,841.4 1340.2,837.6 1341.2,837.2 1342.2,840.2 1343.2,840.3 1344.2,838.5 1345.2,837.7 1346.2,837.3 1347.2,839.4 1348.2,840.9 1349.2,838.7 1350.2,836.1 1351.2,836.0 1352.2,835.9 1353.2,832.3 1354.2,828.0 1355.2,828.7 1356.2,830.9 1357.2,830.4 1358.2,831.3 1359.2,833.0 1360.2,834.0 1361.2,833.3 1362.2,831.6 1363.2,831.2 1364.2,831.9 1365.2,828.0 1366.2,823.8 1367.2,823.3 1368.2,823.8 1369.2,823.6 1370.2,823.9 1371.2,824.3 1372.2,821.6 1373.2,818.6 1374.2,819.5 1375.2,821.5 1376.2,822.7 1377.2,823.9 1378.2,824.9 1379.2,825.8 1380.2,825.8 1381.2,824.6 1382.2,826.0 1383.2,826.3 1384.2,819.3 1385.2,813.6 1386.2,811.4 1387.2,811.3 1388.2,809.8 1389.2,804.4 1390.2,800.9 1391.2,800.2 1392.2,801.0 1393.2,800.3 1394.2,798.8 1395.2,798.2 1396.2,797.7 1397.2,795.9 1398.2,791.1 1399.2,787.0 1400.2,785.3 1401.2,784.8 1402.2,783.8 1403.2,780.1 1404.2,776.4 1405.2,774.1 1406.2,770.9 1407.2,766.7 1408.2,765.4 1409.2,763.3 1410.2,757.9 1411.2,752.8 1412.2,750.1 1413.2,746.6 1414.2,745.4 1415.2,744.4 1416.2,743.3 1417.2,743.0 1418.2,741.5 1419.2,738.1 1420.2,736.7 1421.2,736.9 1422.2,735.0 1423.2,732.3 1424.2,733.4 1425.2,734.3 1426.2,732.8 1427.2,729.9 1428.2,726.6 1429.2,725.1 1430.2,724.5 1431.2,725.8 1432.2,728.1 1433.2,728.3 1434.2,728.4 1435.2,727.6 1436.2,728.4 1437.2,729.5 1438.2,731.0 1439.2,734.9 1440.2,737.8 1441.2,739.9 1442.2,740.0 1443.2,738.0 1444.2,736.0 1445.2,740.1 1446.2,746.8 1447.2,751.1 1448.2,754.7 1449.2,759.1 1450.2,761.0 1451.2,762.7 1452.2,765.5 1453.2,776.3 1454.2,784.7 1455.2,784.2 1456.2,782.6 1457.2,785.5 1458.2,789.0 1459.2,788.1 1460.2,788.3 1461.2,789.3 1462.2,791.7 1463.2,796.8 1464.2,798.3 1465.2,800.2 1466.2,806.3 1467.2,810.4 1468.2,810.6 1469.2,811.3 1470.2,814.2 1471.2,814.8 1472.2,813.1 1473.2,815.6 1474.2,819.8 1475.2,820.1 1476.2,820.1 1477.2,823.2 1478.2,825.3 1479.2,823.5 1480.2,823.0 1481.2,823.5 1482.2,822.6 1483.2,821.7 1484.2,822.4 1485.2,824.5 1486.2,826.7 1487.2,828.6 1488.2,832.8 1489.2,837.0 1490.2,839.4 1491.2,841.7 1492.2,843.8 1493.2,846.5 1494.2,849.0 1495.2,846.3 1496.2,841.2 1497.2,838.3 1498.2,839.9 1499.2,841.1 1500.2,839.3 1501.2,842.1 1502.2,846.5 1503.2,846.1 1504.2,845.6 1505.2,847.8 1506.2,848.5 1507.2,848.1 1508.2,847.0 1509.2,846.6 1510.2,849.9 1511.2,851.2 1512.2,850.4 1513.2,853.9 1514.2,853.7 1515.2,848.4 1516.2,849.7 1517.2,853.8 1518.2,852.4 1519.2,849.0 1520.2,847.9 1521.2,849.0 1522.2,849.6 1523.2,847.9 1524.2,847.5 1525.2,849.6 1526.2,852.2 1527.2,854.0 1528.2,853.1 1529.2,853.2 1530.2,852.5 1531.2,850.3 1532.2,849.2 1533.2,849.1 1534.2,850.5 1535.2,849.5 1536.2,847.1 1537.2,848.5 1538.2,852.4 1539.2,851.7 1540.2,849.9 1541.2,852.0 1542.2,855.3 1543.2,856.7 1544.2,855.0 1545.2,855.4 1546.2,859.9 1547.2,862.4 1548.2,859.8 1549.2,856.9 1550.2,857.4 1551.2,858.8 1552.2,855.5 1553.2,850.6 1554.2,850.6 1555.2,851.3 1556.2,848.7 1557.2,849.1 1558.2,850.2 1559.2,851.7 1560.2,857.5 1561.2,862.1 1562.2,863.5 1563.2,863.7 1564.2,861.9 1565.2,858.8 1566.2,861.1 1567.2,864.7 1568.2,864.5 1569.2,863.1 1570.2,861.7 1571.2,860.0 1572.2,859.2 1573.2,860.5 1574.2,860.9 1575.2,859.7 1576.2,859.5 1577.2,859.4 1578.2,859.5 1579.2,860.1 1580.2,857.4 1581.2,853.3 1582.2,854.9 1583.2,855.8 1584.2,853.5 1585.2,856.7 1586.2,860.6 1587.2,860.0 1588.2,860.7 1589.2,860.4 1590.2,858.8 1591.2,859.1 1592.2,859.8 1593.2,861.1 1594.2,862.9 1595.2,861.6 1596.2,858.3 1597.2,855.9 1598.2,856.2 1599.2,856.3 1600.2,854.5 1601.2,852.4 1602.2,850.0 1603.2,847.1 1604.2,847.9 1605.2,849.7 1606.2,848.4 1607.2,847.5 1608.2,849.0 1609.2,850.9 1610.2,851.5 1611.2,848.9 1612.2,845.7 1613.2,844.2 1614.2,844.3 1615.2,845.4 1616.2,843.5 1617.2,840.4 1618.2,842.8 1619.2,845.0 1620.2,846.8" fill="none" stroke="#ff8000" stroke-width="6.1" stroke-linejoin="round" stroke-linecap="round"/>
<path d="M156.3,592.2C157.1,591.6 159.1,589.4 160.8,588.6C162.5,587.9 164.6,587.2 166.3,587.7C168.0,588.2 169.0,591.1 170.8,591.3C172.6,591.4 175.6,590.1 177.1,588.6C178.6,587.1 178.3,584.0 179.8,582.2C181.3,580.5 183.8,577.7 186.1,578.1C188.4,578.5 191.3,582.0 193.4,584.9C195.5,587.8 197.2,593.5 198.8,595.8C200.5,598.1 201.2,598.2 203.3,598.5C205.4,598.8 209.3,598.4 211.4,597.6C213.5,596.8 213.9,593.5 216.0,593.6C218.1,593.8 221.2,598.9 224.1,598.5C226.9,598.1 230.5,592.5 233.1,591.3C235.7,590.1 236.8,593.9 239.5,591.3C242.2,588.7 246.8,577.7 249.4,575.9C252.0,574.1 253.0,578.0 254.8,580.4C256.6,582.8 258.4,588.9 260.2,590.4C262.0,591.9 263.6,590.6 265.7,589.5C267.8,588.4 270.5,584.3 272.9,583.5C275.3,582.7 278.3,583.8 280.1,584.9C281.9,586.0 281.3,592.9 283.7,590.4C286.1,587.9 291.3,571.3 294.6,569.6C297.9,567.9 300.6,578.0 303.6,580.4C306.6,582.8 310.3,583.2 312.7,584.0C315.1,584.8 316.0,585.4 318.1,584.9C320.2,584.4 323.2,581.3 325.3,581.3C327.4,581.3 328.7,581.4 330.7,584.9C332.7,588.4 334.5,601.5 337.1,602.1C339.7,602.7 343.2,590.0 346.1,588.6C349.0,587.2 351.3,594.9 354.2,594.0C357.1,593.1 360.6,584.1 363.3,583.5C366.0,582.9 367.8,589.1 370.5,590.4C373.2,591.7 376.5,592.1 379.5,591.3C382.5,590.5 385.4,585.3 388.6,585.8C391.8,586.2 395.5,593.7 398.5,594.0C401.5,594.3 403.7,588.2 406.6,587.7C409.5,587.2 413.0,591.0 415.7,591.3C418.4,591.6 421.1,590.8 422.9,589.5C424.7,588.2 424.4,583.8 426.5,583.5C428.6,583.2 433.5,588.4 435.6,587.7C437.7,587.0 437.4,581.8 439.2,579.5C441.0,577.2 444.1,574.3 446.4,573.7C448.6,573.1 450.6,574.2 452.7,575.9C454.8,577.6 456.6,584.6 459.0,584.0C461.4,583.4 465.0,574.5 467.1,572.3C469.2,570.0 469.8,571.7 471.6,570.5C473.4,569.3 476.3,566.8 478.0,565.1C479.7,563.4 480.2,560.5 481.6,560.5C483.0,560.5 484.5,564.9 486.1,565.4C487.8,565.9 490.0,565.2 491.5,563.6C493.0,562.0 493.8,557.5 495.1,556.0C496.5,554.5 497.6,554.1 499.6,554.8C501.6,555.5 504.2,560.2 506.9,560.2C509.6,560.2 513.3,554.7 515.9,554.6C518.5,554.5 520.6,557.0 522.2,559.6C523.9,562.2 524.3,567.2 525.8,570.5C527.3,573.8 529.5,578.3 531.3,579.5C533.1,580.7 535.2,580.1 536.7,577.7C538.2,575.3 538.8,567.7 540.3,565.1C541.8,562.5 544.2,561.2 545.7,562.4C547.2,563.6 547.9,569.8 549.3,572.3C550.7,574.8 552.5,575.5 553.9,577.7C555.3,580.0 555.7,584.1 557.5,585.8C559.3,587.5 562.3,588.3 564.7,587.7C567.1,587.1 569.8,583.8 571.9,582.2C574.0,580.6 575.6,578.1 577.4,578.1C579.2,578.1 580.7,581.2 582.8,582.2C584.9,583.2 587.9,583.4 590.0,584.0C592.1,584.6 593.0,585.5 595.4,585.8C597.8,586.1 602.4,584.7 604.5,585.8C606.6,586.9 606.5,589.3 608.1,592.2C609.8,595.1 612.0,601.6 614.4,603.0C616.8,604.4 619.2,600.8 622.5,600.3C625.8,599.8 631.6,599.2 634.3,599.8C637.0,600.4 636.5,603.1 638.8,603.9C641.0,604.7 645.1,602.8 647.8,604.5C650.5,606.2 652.7,611.1 655.1,613.9C657.5,616.7 660.2,620.5 662.3,621.1C664.4,621.7 665.9,619.3 667.7,617.5C669.5,615.7 671.3,613.1 673.1,610.2C674.9,607.3 676.9,603.3 678.6,600.3C680.3,597.3 681.3,594.8 683.1,592.2C684.9,589.6 687.5,585.4 689.4,584.9C691.3,584.4 692.8,587.1 694.8,589.5C696.8,591.9 699.1,597.8 701.2,599.4C703.3,601.0 705.2,599.8 707.5,599.4C709.8,599.0 712.9,598.4 714.7,596.7C716.5,595.1 716.9,590.7 718.3,589.5C719.6,588.3 721.3,588.5 722.8,589.5C724.3,590.5 725.9,595.3 727.4,595.8C728.9,596.3 730.4,593.4 732.0,592.5C733.6,591.6 735.6,590.4 737.2,590.4C738.8,590.4 740.2,592.8 741.7,592.5C743.2,592.2 744.9,590.8 746.3,588.6C747.7,586.4 748.5,582.2 749.9,579.5C751.2,576.8 752.8,573.9 754.4,572.3C756.0,570.6 758.4,571.2 759.8,569.6C761.1,568.0 761.1,564.8 762.5,562.4C763.9,560.0 766.6,558.0 768.0,555.1C769.4,552.2 769.4,547.8 770.7,545.2C772.1,542.7 774.5,539.6 776.1,539.8C777.8,539.9 779.2,545.2 780.6,546.1C782.0,547.0 783.1,544.6 784.2,545.2C785.4,545.8 786.3,549.7 787.5,549.7C788.7,549.7 790.2,545.4 791.4,545.2C792.6,545.1 793.6,549.7 794.7,548.8C795.8,547.9 796.7,542.1 797.8,539.8C798.9,537.5 800.2,537.8 801.4,535.2C802.6,532.6 803.8,526.0 805.0,524.4C806.2,522.8 807.1,523.8 808.6,525.3C810.1,526.8 812.5,529.5 814.0,533.4C815.5,537.3 816.5,545.0 817.7,548.8C818.9,552.6 820.1,552.5 821.3,556.0C822.5,559.5 823.7,567.0 824.9,569.6C826.1,572.2 827.1,570.4 828.5,571.4C829.9,572.4 831.5,574.8 833.0,575.9C834.5,577.0 836.3,575.9 837.5,577.7C838.7,579.5 838.5,583.9 840.2,586.8C841.9,589.7 845.1,595.1 847.5,594.9C849.9,594.7 852.9,587.2 854.7,585.8C856.5,584.4 856.8,584.7 858.3,586.4C859.8,588.1 861.6,592.0 863.7,595.8C865.8,599.6 868.6,607.0 871.0,609.3C873.4,611.5 876.1,609.1 878.2,609.3C880.3,609.4 881.8,609.4 883.6,610.2C885.4,611.1 887.2,614.7 889.0,614.4C890.8,614.1 892.7,611.2 894.5,608.4C896.3,605.6 898.5,599.5 899.9,597.6C901.2,595.7 900.8,595.6 902.6,596.7C904.4,597.9 907.8,604.6 910.7,604.5C913.6,604.4 917.4,596.8 919.8,595.8C922.2,594.8 922.8,598.4 925.2,598.5C927.6,598.6 931.2,595.6 934.2,596.7C937.2,597.8 940.4,605.8 943.3,605.2C946.2,604.6 949.0,595.9 951.4,593.1C953.8,590.3 955.8,588.8 957.7,588.6C959.7,588.5 961.1,590.9 963.1,592.2C965.1,593.6 967.5,597.0 969.5,596.7C971.5,596.4 972.9,590.2 974.9,590.4C976.9,590.5 979.4,594.6 981.2,597.6C983.0,600.6 983.3,608.0 985.7,608.4C988.1,608.8 992.5,601.2 995.7,600.3C998.9,599.4 1001.8,603.9 1004.7,603.0C1007.6,602.1 1010.5,595.2 1012.9,594.9C1015.3,594.6 1017.3,599.4 1019.2,601.2C1021.1,603.0 1022.6,605.5 1024.5,605.5C1026.4,605.5 1027.6,602.5 1030.8,601.0C1034.0,599.5 1040.3,598.4 1043.5,596.5C1046.7,594.6 1047.8,589.8 1049.8,589.8C1051.8,589.8 1053.4,593.1 1055.2,596.5C1057.0,599.9 1058.9,608.0 1060.7,610.1C1062.5,612.2 1063.5,611.6 1066.1,609.2C1068.6,606.8 1073.5,597.3 1076.0,595.6C1078.5,593.9 1079.1,597.2 1081.4,599.2C1083.7,601.2 1087.2,606.6 1089.6,607.4C1092.0,608.1 1094.4,604.9 1095.9,603.7C1097.4,602.5 1097.1,600.2 1098.6,600.1C1100.1,600.0 1102.6,603.5 1104.9,602.8C1107.2,602.0 1109.5,596.4 1112.2,595.6C1114.9,594.8 1118.2,597.2 1121.2,598.0C1124.2,598.8 1127.3,601.0 1130.2,600.5C1133.1,600.0 1135.7,594.5 1138.4,594.7C1141.1,594.9 1143.3,600.4 1146.5,601.9C1149.7,603.4 1154.1,604.7 1157.4,603.7C1160.7,602.8 1163.7,596.1 1166.4,596.2C1169.1,596.4 1170.9,604.1 1173.6,604.6C1176.3,605.1 1180.3,599.8 1182.7,599.2C1185.1,598.6 1185.5,602.6 1188.1,601.0C1190.6,599.4 1194.4,589.3 1198.0,589.3C1201.6,589.3 1206.3,600.5 1209.8,601.0C1213.3,601.5 1216.4,593.0 1218.8,592.5C1221.2,592.0 1221.8,597.9 1224.2,598.3C1226.6,598.7 1230.9,594.6 1233.3,594.7C1235.7,594.8 1236.0,600.6 1238.7,598.7C1241.4,596.8 1246.6,585.4 1249.5,583.5C1252.4,581.6 1253.8,583.9 1255.9,587.1C1258.0,590.3 1259.7,602.2 1262.2,602.8C1264.8,603.4 1268.2,592.1 1271.2,590.7C1274.2,589.4 1278.2,593.5 1280.3,594.7C1282.4,595.9 1282.1,598.3 1283.9,598.0C1285.7,597.7 1288.4,594.9 1291.1,592.9C1293.8,590.9 1296.8,583.8 1300.1,585.7C1303.4,587.7 1308.4,604.0 1311.0,604.6C1313.6,605.2 1314.2,593.6 1315.8,589.5C1317.4,585.4 1319.0,580.9 1320.6,579.9C1322.2,578.9 1323.6,582.7 1325.4,583.7C1327.2,584.7 1329.3,585.9 1331.2,585.7C1333.1,585.6 1335.1,584.6 1337.0,582.8C1338.9,581.0 1341.2,576.7 1342.8,575.1C1344.4,573.5 1345.2,573.0 1346.6,573.1C1348.0,573.2 1349.8,577.0 1351.4,576.0C1353.0,575.0 1354.7,570.3 1356.3,567.3C1357.9,564.2 1359.5,559.4 1361.1,557.7C1362.7,556.0 1363.7,557.0 1365.9,557.1C1368.2,557.2 1372.5,559.0 1374.6,558.3C1376.7,557.6 1377.1,555.2 1378.4,552.9C1379.7,550.5 1380.8,546.9 1382.3,544.2C1383.8,541.5 1385.5,538.6 1387.1,536.5C1388.7,534.4 1390.6,534.1 1391.9,531.7C1393.2,529.3 1393.7,525.9 1394.8,522.0C1395.9,518.1 1397.4,512.8 1398.7,508.6C1400.0,504.4 1400.9,499.2 1402.5,497.0C1404.1,494.8 1406.4,496.1 1408.3,495.1C1410.2,494.1 1412.5,493.1 1414.1,491.2C1415.7,489.3 1416.5,484.9 1418.0,483.5C1419.5,482.1 1421.4,481.7 1422.8,482.5C1424.2,483.3 1425.2,485.9 1426.6,488.3C1428.0,490.7 1429.6,494.1 1431.4,497.0C1433.2,499.9 1435.0,501.7 1437.2,505.7C1439.5,509.7 1442.5,516.9 1444.9,521.1C1447.3,525.3 1449.8,527.2 1451.7,530.7C1453.6,534.2 1455.0,539.2 1456.5,542.3C1458.0,545.3 1459.1,547.7 1460.4,549.0C1461.7,550.3 1462.6,549.0 1464.2,550.0C1465.8,551.0 1467.8,553.7 1470.0,554.8C1472.2,555.9 1475.6,554.9 1477.7,556.4C1479.8,557.9 1481.0,560.2 1482.5,563.5C1484.0,566.8 1485.1,574.1 1486.4,576.0C1487.7,577.9 1488.8,576.6 1490.2,575.1C1491.7,573.6 1493.6,567.5 1495.1,567.3C1496.5,567.1 1497.6,570.7 1498.9,574.1C1500.2,577.5 1501.7,583.6 1502.8,587.6C1503.9,591.6 1503.6,596.1 1505.7,598.2C1507.8,600.3 1512.9,601.1 1515.3,600.1C1517.7,599.1 1518.3,594.5 1520.1,592.4C1521.9,590.3 1523.7,587.3 1525.9,587.6C1528.2,587.9 1531.0,591.6 1533.6,594.3C1536.2,597.0 1538.7,603.0 1541.3,604.0C1543.9,605.0 1546.1,600.8 1549.0,600.1C1551.9,599.5 1556.1,599.8 1558.7,600.1C1561.3,600.4 1562.1,600.7 1564.5,602.0C1566.9,603.3 1570.2,607.6 1573.1,607.8C1576.0,608.0 1579.1,604.1 1581.8,603.0C1584.5,601.9 1586.5,603.5 1589.5,601.1C1592.5,598.7 1597.5,589.9 1600.1,588.6C1602.7,587.3 1603.1,591.5 1604.9,593.4C1606.7,595.3 1608.0,599.1 1610.7,600.1C1613.4,601.1 1619.3,599.6 1621.0,599.5" fill="none" stroke="#008080" stroke-width="5.4" stroke-linejoin="round" stroke-linecap="round"/>
<path d="M156.3,359.3L157.3,356.8 158.3,354.3 159.3,354.1 160.3,354.7 161.3,353.7 162.3,353.5 163.3,355.5 164.3,356.9 165.3,356.4 166.3,355.3 167.3,355.5 168.3,354.7 169.3,353.1 170.3,353.9 171.3,355.6 172.3,355.8 173.3,352.9 174.3,351.9 175.3,353.2 176.3,353.5 177.3,353.1 178.3,352.5 179.3,353.3 180.3,354.9 181.3,354.9 182.3,353.2 183.3,352.5 184.3,353.8 185.3,355.2 186.3,355.6 187.3,355.8 188.3,355.6 189.3,354.6 190.3,354.3 191.3,353.7 192.3,351.7 193.3,351.2 194.3,353.2 195.3,355.0 196.3,354.1 197.3,353.5 198.3,353.1 199.3,350.7 200.3,349.8 201.3,351.3 202.3,351.8 203.3,350.7 204.3,349.1 205.3,350.0 206.3,353.1 207.3,352.5 208.3,348.6 209.3,347.4 210.3,349.7 211.3,351.2 212.3,351.0 213.3,349.7 214.3,349.0 215.3,350.6 216.3,351.3 217.3,348.6 218.3,346.4 219.3,347.7 220.3,348.5 221.3,347.1 222.3,346.9 223.3,346.4 224.3,345.9 225.3,345.6 226.3,345.9 227.3,346.5 228.3,346.0 229.3,344.9 230.3,342.7 231.3,341.3 232.3,339.4 233.3,336.9 234.3,338.3 235.3,339.1 236.3,337.9 237.3,337.6 238.3,334.5 239.3,331.1 240.3,330.9 241.3,330.3 242.3,329.2 243.3,329.6 244.3,329.0 245.3,324.9 246.3,320.8 247.3,316.4 248.3,312.3 249.3,310.1 250.3,306.7 251.3,302.8 252.3,298.3 253.3,294.5 254.3,293.8 255.3,291.5 256.3,283.5 257.3,273.9 258.3,265.8 259.3,256.1 260.3,247.0 261.3,238.6 262.3,231.9 263.3,223.9 264.3,217.3 265.3,211.8 266.3,213.0 267.3,219.0 268.3,223.9 269.3,228.8 270.3,237.0 271.3,242.6 272.3,247.3 273.3,254.2 274.3,262.0 275.3,272.8 276.3,283.9 277.3,289.9 278.3,296.0 279.3,304.1 280.3,310.9 281.3,313.6 282.3,317.2 283.3,322.5 284.3,326.1 285.3,328.1 286.3,330.0 287.3,332.4 288.3,333.9 289.3,334.7 290.3,335.2 291.3,334.7 292.3,334.5 293.3,338.0 294.3,343.6 295.3,345.1 296.3,343.6 297.3,342.7 298.3,344.7 299.3,347.3 300.3,346.5 301.3,344.0 302.3,342.6 303.3,341.5 304.3,342.2 305.3,344.6 306.3,346.4 307.3,348.3 308.3,349.5 309.3,349.8 310.3,349.2 311.3,346.8 312.3,346.2 313.3,349.9 314.3,352.7 315.3,349.9 316.3,347.1 317.3,349.0 318.3,350.1 319.3,348.8 320.3,348.8 321.3,349.5 322.3,351.0 323.3,351.4 324.3,351.7 325.3,352.2 326.3,349.8 327.3,349.6 328.3,351.2 329.3,351.4 330.3,352.4 331.3,350.7 332.3,348.4 333.3,349.4 334.3,350.4 335.3,350.4 336.3,350.8 337.3,350.0 338.3,347.3 339.3,347.6 340.3,350.9 341.3,351.4 342.3,348.7 343.3,347.7 344.3,348.2 345.3,349.3 346.3,351.4 347.3,352.8 348.3,352.7 349.3,351.1 350.3,351.5 351.3,353.2 352.3,352.6 353.3,351.6 354.3,351.3 355.3,351.3 356.3,352.5 357.3,351.8 358.3,350.5 359.3,351.2 360.3,352.9 361.3,353.2 362.3,350.9 363.3,349.9 364.3,350.0 365.3,347.9 366.3,347.4 367.3,349.5 368.3,350.5 369.3,350.0 370.3,346.4 371.3,344.2 372.3,347.2 373.3,350.1 374.3,351.2 375.3,350.3 376.3,349.1 377.3,348.1 378.3,346.8 379.3,345.2 380.3,344.3 381.3,344.6 382.3,343.8 383.3,343.7 384.3,345.3 385.3,344.4 386.3,343.1 387.3,343.3 388.3,341.9 389.3,341.3 390.3,341.0 391.3,339.1 392.3,338.7 393.3,338.0 394.3,335.2 395.3,329.9 396.3,324.8 397.3,323.7 398.3,325.0 399.3,322.9 400.3,319.5 401.3,318.1 402.3,318.2 403.3,318.5 404.3,317.9 405.3,317.1 406.3,317.3 407.3,318.5 408.3,318.8 409.3,320.5 410.3,323.4 411.3,325.8 412.3,327.7 413.3,330.8 414.3,335.0 415.3,340.1 416.3,343.3 417.3,344.4 418.3,344.7 419.3,345.4 420.3,345.3 421.3,345.8 422.3,346.5 423.3,347.7 424.3,350.5 425.3,352.0 426.3,349.7 427.3,348.1 428.3,351.1 429.3,352.0 430.3,350.5 431.3,351.8 432.3,354.6 433.3,355.9 434.3,355.7 435.3,355.0 436.3,355.2 437.3,355.6 438.3,354.2 439.3,352.6 440.3,352.7 441.3,354.0 442.3,356.4 443.3,356.9 444.3,354.4 445.3,354.0 446.3,354.8 447.3,355.8 448.3,357.5 449.3,357.1 450.3,354.7 451.3,352.6 452.3,352.1 453.3,354.4 454.3,356.2 455.3,355.7 456.3,356.0 457.3,356.5 458.3,356.6 459.3,356.6 460.3,354.8 461.3,352.7 462.3,353.3 463.3,355.2 464.3,354.9 465.3,354.9 466.3,355.4 467.3,355.8 468.3,357.6 469.3,357.0 470.3,354.4 471.3,354.7 472.3,355.5 473.3,353.9 474.3,353.5 475.3,355.0 476.3,355.7 477.3,355.9 478.3,355.8 479.3,355.1 480.3,356.0 481.3,357.7 482.3,357.0 483.3,356.6 484.3,356.2 485.3,353.9 486.3,354.7 487.3,357.3 488.3,357.5 489.3,356.1 490.3,355.5 491.3,356.0 492.3,356.1 493.3,354.0 494.3,352.0 495.3,353.5 496.3,355.4 497.3,356.9 498.3,357.9 499.3,356.9 500.3,355.9 501.3,355.7 502.3,355.6 503.3,355.6 504.3,354.9 505.3,355.7 506.3,358.4 507.3,356.6 508.3,353.8 509.3,354.4 510.3,354.1 511.3,353.9 512.3,354.3 513.3,354.6 514.3,355.4 515.3,354.3 516.3,353.3 517.3,354.9 518.3,357.5 519.3,358.2 520.3,355.5 521.3,353.4 522.3,354.8 523.3,355.8 524.3,354.4 525.3,354.4 526.3,356.0 527.3,356.3 528.3,355.6 529.3,354.4 530.3,353.9 531.3,354.6 532.3,355.1 533.3,355.5 534.3,356.6 535.3,357.3 536.3,357.4 537.3,356.3 538.3,354.1 539.3,354.2 540.3,356.2 541.3,356.6 542.3,355.2 543.3,354.1 544.3,354.3 545.3,354.2 546.3,353.7 547.3,353.3 548.3,353.3 549.3,355.8 550.3,357.2 551.3,355.8 552.3,354.8 553.3,354.9 554.3,357.5 555.3,358.3 556.3,355.4 557.3,355.8 558.3,358.2 559.3,357.7 560.3,355.0 561.3,353.0 562.3,355.0 563.3,358.3 564.3,359.3 565.3,357.6 566.3,355.2 567.3,353.3 568.3,352.2 569.3,354.0 570.3,356.9 571.3,355.8 572.3,355.1 573.3,355.9 574.3,355.6 575.3,356.6 576.3,356.9 577.3,357.0 578.3,357.7 579.3,358.0 580.3,358.3 581.3,357.0 582.3,355.3 583.3,354.0 584.3,353.2 585.3,355.0 586.3,357.9 587.3,359.3 588.3,361.0 589.3,361.9 590.3,359.8 591.3,356.7 592.3,354.7 593.3,356.7 594.3,359.8 595.3,358.7 596.3,356.9 597.3,355.4 598.3,353.3 599.3,352.9 600.3,352.4 601.3,353.0 602.3,356.8 603.3,358.4 604.3,357.3 605.3,356.2 606.3,355.7 607.3,357.1 608.3,359.2 609.3,360.5 610.3,360.4 611.3,358.4 612.3,356.2 613.3,354.9 614.3,355.6 615.3,357.6 616.3,358.0 617.3,358.4 618.3,359.6 619.3,358.9 620.3,357.1 621.3,356.6 622.3,356.1 623.3,354.8 624.3,354.9 625.3,356.2 626.3,356.0 627.3,356.9 628.3,358.3 629.3,358.4 630.3,358.6 631.3,358.9 632.3,359.4 633.3,357.4 634.3,355.6 635.3,357.3 636.3,356.1 637.3,354.0 638.3,355.8 639.3,356.4 640.3,354.8 641.3,355.6 642.3,358.4 643.3,360.2 644.3,360.5 645.3,360.4 646.3,357.6 647.3,353.6 648.3,354.2 649.3,354.7 650.3,353.6 651.3,356.7 652.3,358.1 653.3,356.1 654.3,355.0 655.3,355.1 656.3,356.0 657.3,356.7 658.3,356.0 659.3,355.5 660.3,356.3 661.3,357.2 662.3,358.1 663.3,356.8 664.3,353.7 665.3,353.5 666.3,355.3 667.3,356.3 668.3,357.5 669.3,358.1 670.3,356.0 671.3,353.3 672.3,354.0 673.3,355.8 674.3,356.2 675.3,357.3 676.3,357.6 677.3,356.5 678.3,355.5 679.3,353.5 680.3,351.9 681.3,354.4 682.3,356.5 683.3,354.9 684.3,354.5 685.3,355.8 686.3,355.8 687.3,355.7 688.3,355.6 689.3,355.2 690.3,355.7 691.3,354.5 692.3,355.1 693.3,356.9 694.3,354.6 695.3,353.2 696.3,354.5 697.3,354.1 698.3,353.4 699.3,353.8 700.3,353.9 701.3,353.5 702.3,355.3 703.3,357.5 704.3,357.3 705.3,356.3 706.3,355.5 707.3,355.4 708.3,354.8 709.3,355.5 710.3,356.9 711.3,354.9 712.3,353.1 713.3,354.4 714.3,356.6 715.3,356.9 716.3,355.7 717.3,355.8 718.3,355.7 719.3,354.6 720.3,355.1 721.3,356.2 722.3,357.1 723.3,357.2 724.3,355.2 725.3,353.6 726.3,355.2 727.3,356.1 728.3,355.4 729.3,355.1 730.3,355.4 731.3,357.3 732.3,359.0 733.3,358.4 734.3,358.3 735.3,360.1 736.3,359.1 737.3,356.5 738.3,355.2 739.3,354.7 740.3,356.4 741.3,359.1 742.3,359.3 743.3,356.2 744.3,354.1 745.3,356.6 746.3,359.1 747.3,359.2 748.3,359.6 749.3,360.3 750.3,360.3 751.3,358.5 752.3,356.7 753.3,358.9 754.3,360.5 755.3,356.6 756.3,355.3 757.3,358.8 758.3,358.5 759.3,355.7 760.3,354.3 761.3,354.5 762.3,356.7 763.3,356.9 764.3,355.5 765.3,355.2 766.3,356.4 767.3,357.5 768.3,357.7 769.3,357.2 770.3,355.1 771.3,353.7 772.3,353.8 773.3,354.0 774.3,355.2 775.3,357.1 776.3,356.3 777.3,354.6 778.3,355.3 779.3,356.2 780.3,356.0 781.3,353.9 782.3,352.6 783.3,354.2 784.3,354.1 785.3,352.5 786.3,352.2 787.3,352.5 788.3,351.1 789.3,348.3 790.3,348.2 791.3,350.2 792.3,350.6 793.3,348.4 794.3,348.0 795.3,350.1 796.3,349.1 797.3,348.4 798.3,351.1 799.3,352.0 800.3,351.1 801.3,350.2 802.3,348.2 803.3,346.2 804.3,346.5 805.3,347.6 806.3,347.8 807.3,346.4 808.3,344.1 809.3,343.5 810.3,344.0 811.3,343.6 812.3,341.4 813.3,339.2 814.3,339.8 815.3,341.6 816.3,342.0 817.3,340.1 818.3,337.3 819.3,337.9 820.3,338.1 821.3,334.5 822.3,332.2 823.3,333.0 824.3,334.8 825.3,333.6 826.3,331.3 827.3,330.6 828.3,330.4 829.3,330.8 830.3,330.7 831.3,329.1 832.3,327.4 833.3,326.6 834.3,326.2 835.3,321.1 836.3,312.5 837.3,307.3 838.3,306.9 839.3,306.0 840.3,305.1 841.3,304.9 842.3,305.1 843.3,304.5 844.3,302.7 845.3,300.2 846.3,299.8 847.3,300.5 848.3,301.2 849.3,302.9 850.3,303.5 851.3,302.7 852.3,303.7 853.3,307.8 854.3,314.7 855.3,321.7 856.3,324.6 857.3,323.6 858.3,324.1 859.3,325.4 860.3,327.4 861.3,330.1 862.3,332.3 863.3,335.0 864.3,338.8 865.3,342.8 866.3,343.6 867.3,342.4 868.3,343.3 869.3,343.4 870.3,343.0 871.3,343.9 872.3,344.6 873.3,348.5 874.3,353.2 875.3,354.0 876.3,353.8 877.3,351.8 878.3,349.2 879.3,350.4 880.3,352.1 881.3,351.5 882.3,349.0 883.3,349.8 884.3,354.6 885.3,355.8 886.3,353.5 887.3,352.4 888.3,352.0 889.3,352.2 890.3,354.0 891.3,354.4 892.3,353.4 893.3,353.2 894.3,353.8 895.3,354.1 896.3,354.7 897.3,355.9 898.3,355.7 899.3,354.3 900.3,354.6 901.3,357.3 902.3,358.6 903.3,356.1 904.3,353.2 905.3,354.7 906.3,357.2 907.3,357.8 908.3,357.8 909.3,357.3 910.3,357.8 911.3,356.2 912.3,353.3 913.3,354.3 914.3,355.9 915.3,355.3 916.3,356.6 917.3,358.8 918.3,358.9 919.3,357.5 920.3,354.7 921.3,353.3 922.3,355.8 923.3,357.6 924.3,357.6 925.3,358.9 926.3,359.4 927.3,358.1 928.3,357.4 929.3,358.0 930.3,360.6 931.3,361.9 932.3,359.7 933.3,357.1 934.3,356.3 935.3,357.5 936.3,358.2 937.3,358.2 938.3,358.2 939.3,356.6 940.3,357.3 941.3,360.4 942.3,360.3 943.3,358.2 944.3,359.6 945.3,361.9 946.3,358.6 947.3,354.5 948.3,357.3 949.3,359.7 950.3,357.6 951.3,356.0 952.3,355.9 953.3,357.4 954.3,357.9 955.3,358.7 956.3,357.4 957.3,353.2 958.3,353.9 959.3,356.2 960.3,355.9 961.3,356.2 962.3,357.7 963.3,359.1 964.3,357.9 965.3,357.2 966.3,359.6 967.3,360.5 968.3,359.3 969.3,359.1 970.3,359.0 971.3,357.2 972.3,356.7 973.3,358.1 974.3,357.3 975.3,356.8 976.3,359.0 977.3,359.8 978.3,358.4 979.3,357.2 980.3,358.0 981.3,359.5 982.3,358.9 983.3,356.9 984.3,356.7 985.3,358.4 986.3,359.5 987.3,358.9 988.3,358.0 989.3,360.2 990.3,362.3 991.3,361.2 992.3,359.9 993.3,358.9 994.3,356.9 995.3,358.3 996.3,359.9 997.3,356.7 998.3,356.1 999.3,358.3 1000.3,357.6 1001.3,356.3 1002.3,357.5 1003.3,359.5 1004.3,358.4 1005.3,356.0 1006.3,355.9 1007.3,357.9 1008.3,359.0 1009.3,359.9 1010.3,360.7 1011.3,358.4 1012.3,355.5 1013.3,355.5 1014.3,358.1 1015.3,358.8 1016.3,356.7 1017.3,356.3 1018.3,357.7 1019.3,357.7 1020.3,356.9 1021.3,357.7 1022.3,358.6 1023.3,357.6 1024.3,357.4 1025.3,358.2 1026.3,359.1 1027.3,358.2 1028.3,356.9 1029.3,357.4 1030.3,356.2 1031.3,354.1 1032.3,353.7 1033.3,353.8 1034.3,355.6 1035.3,355.7 1036.3,352.5 1037.3,353.0 1038.3,355.7 1039.3,356.3 1040.3,355.4 1041.3,354.0 1042.3,352.3 1043.3,350.7 1044.3,352.5 1045.3,356.3 1046.3,358.4 1047.3,358.0 1048.3,355.1 1049.3,353.0 1050.3,351.9 1051.3,352.3 1052.3,355.7 1053.3,356.2 1054.3,354.9 1055.3,355.0 1056.3,353.6 1057.3,352.9 1058.3,351.4 1059.3,350.4 1060.3,351.5 1061.3,352.3 1062.3,352.9 1063.3,352.1 1064.3,351.4 1065.3,351.5 1066.3,351.2 1067.3,351.4 1068.3,352.6 1069.3,352.7 1070.3,351.5 1071.3,352.1 1072.3,352.9 1073.3,350.5 1074.3,349.6 1075.3,350.3 1076.3,348.3 1077.3,345.9 1078.3,346.1 1079.3,345.8 1080.3,345.0 1081.3,344.7 1082.3,343.7 1083.3,342.8 1084.3,343.8 1085.3,345.4 1086.3,344.9 1087.3,344.2 1088.3,344.6 1089.3,344.1 1090.3,343.5 1091.3,343.5 1092.3,341.0 1093.3,337.7 1094.3,337.6 1095.3,337.8 1096.3,338.2 1097.3,337.2 1098.3,333.1 1099.3,328.7 1100.3,327.0 1101.3,327.8 1102.3,327.4 1103.3,327.5 1104.3,329.1 1105.3,327.4 1106.3,323.3 1107.3,321.0 1108.3,320.7 1109.3,320.5 1110.3,319.9 1111.3,320.3 1112.3,319.2 1113.3,315.9 1114.3,316.0 1115.3,315.3 1116.3,311.6 1117.3,311.4 1118.3,312.6 1119.3,314.0 1120.3,316.7 1121.3,318.6 1122.3,320.4 1123.3,321.3 1124.3,322.2 1125.3,324.1 1126.3,324.6 1127.3,326.6 1128.3,331.3 1129.3,334.3 1130.3,334.1 1131.3,334.1 1132.3,337.6 1133.3,340.4 1134.3,338.7 1135.3,337.5 1136.3,339.5 1137.3,341.2 1138.3,342.3 1139.3,343.2 1140.3,343.0 1141.3,344.1 1142.3,346.4 1143.3,348.0 1144.3,349.0 1145.3,349.4 1146.3,347.3 1147.3,347.6 1148.3,348.6 1149.3,347.4 1150.3,348.7 1151.3,349.5 1152.3,348.5 1153.3,349.9 1154.3,351.6 1155.3,350.8 1156.3,350.8 1157.3,352.5 1158.3,351.6 1159.3,348.2 1160.3,347.0 1161.3,348.8 1162.3,351.4 1163.3,353.9 1164.3,354.4 1165.3,354.3 1166.3,355.1 1167.3,354.7 1168.3,353.7 1169.3,353.3 1170.3,353.5 1171.3,353.9 1172.3,355.3 1173.3,357.1 1174.3,356.7 1175.3,353.7 1176.3,352.4 1177.3,354.4 1178.3,353.8 1179.3,351.0 1180.3,350.1 1181.3,349.9 1182.3,347.9 1183.3,348.5 1184.3,350.2 1185.3,349.2 1186.3,348.6 1187.3,348.6 1188.3,348.8 1189.3,350.5 1190.3,350.7 1191.3,349.4 1192.3,349.3 1193.3,351.0 1194.3,351.4 1195.3,352.4 1196.3,353.2 1197.3,351.2 1198.3,348.4 1199.3,347.6 1200.3,346.8 1201.3,347.1 1202.3,349.2 1203.3,349.6 1204.3,348.0 1205.3,344.8 1206.3,343.3 1207.3,346.8 1208.3,350.3 1209.3,350.1 1210.3,349.6 1211.3,350.3 1212.3,351.2 1213.3,352.6 1214.3,353.8 1215.3,352.6 1216.3,352.7 1217.3,354.9 1218.3,355.5 1219.3,355.0 1220.3,354.4 1221.3,353.8 1222.3,354.2 1223.3,354.5 1224.3,352.7 1225.3,352.0 1226.3,354.0 1227.3,353.7 1228.3,352.5 1229.3,352.6 1230.3,352.2 1231.3,352.4 1232.3,354.2 1233.3,355.5 1234.3,355.1 1235.3,354.1 1236.3,353.7 1237.3,354.1 1238.3,354.3 1239.3,354.6 1240.3,354.0 1241.3,352.7 1242.3,351.9 1243.3,352.2 1244.3,353.2 1245.3,353.5 1246.3,355.1 1247.3,356.2 1248.3,354.7 1249.3,354.3 1250.3,354.6 1251.3,354.5 1252.3,355.2 1253.3,356.7 1254.3,356.8 1255.3,355.3 1256.3,354.8 1257.3,356.3 1258.3,356.8 1259.3,355.5 1260.3,356.0 1261.3,357.7 1262.3,357.0 1263.3,354.8 1264.3,352.8 1265.3,352.4 1266.3,354.0 1267.3,354.5 1268.3,354.6 1269.3,356.7 1270.3,357.1 1271.3,355.9 1272.3,356.0 1273.3,356.7 1274.3,356.9 1275.3,356.8 1276.3,357.0 1277.3,356.6 1278.3,354.2 1279.3,355.2 1280.3,359.2 1281.3,360.6 1282.3,359.2 1283.3,357.2 1284.3,357.8 1285.3,359.3 1286.3,358.5 1287.3,358.1 1288.3,358.9 1289.3,357.3 1290.3,356.8 1291.3,359.3 1292.3,359.5 1293.3,358.0 1294.3,355.8 1295.3,355.4 1296.3,357.8 1297.3,357.9 1298.3,356.3 1299.3,355.5 1300.3,353.4 1301.3,353.5 1302.3,355.9 1303.3,356.3 1304.3,357.7 1305.3,359.0 1306.3,359.1 1307.3,359.4 1308.3,358.5 1309.3,357.4 1310.3,357.2 1311.3,357.5 1312.3,356.8 1313.3,355.5 1314.3,355.7 1315.3,358.2 1316.3,361.5 1317.3,360.0 1318.3,356.9 1319.3,355.7 1320.3,354.6 1321.3,356.8 1322.3,359.4 1323.3,359.0 1324.3,358.3 1325.3,357.3 1326.3,357.2 1327.3,355.8 1328.3,353.0 1329.3,355.1 1330.3,358.0 1331.3,357.5 1332.3,358.8 1333.3,359.7 1334.3,358.3 1335.3,358.0 1336.3,357.1 1337.3,356.1 1338.3,357.0 1339.3,356.6 1340.3,354.8 1341.3,353.8 1342.3,353.6 1343.3,354.6 1344.3,355.1 1345.3,353.3 1346.3,353.1 1347.3,356.6 1348.3,357.7 1349.3,355.6 1350.3,354.9 1351.3,353.1 1352.3,353.1 1353.3,357.3 1354.3,356.8 1355.3,354.9 1356.3,357.2 1357.3,358.8 1358.3,358.9 1359.3,358.3 1360.3,358.2 1361.3,358.2 1362.3,356.7 1363.3,355.3 1364.3,353.7 1365.3,353.7 1366.3,355.7 1367.3,355.4 1368.3,354.2 1369.3,356.2 1370.3,356.9 1371.3,354.8 1372.3,356.0 1373.3,357.8 1374.3,356.6 1375.3,357.0 1376.3,357.9 1377.3,357.2 1378.3,357.1 1379.3,357.5 1380.3,357.3 1381.3,355.7 1382.3,354.5 1383.3,355.1 1384.3,356.6 1385.3,359.7 1386.3,361.6 1387.3,358.2 1388.3,355.0 1389.3,356.5 1390.3,356.7 1391.3,354.2 1392.3,354.8 1393.3,356.9 1394.3,356.5 1395.3,356.2 1396.3,357.4 1397.3,356.2 1398.3,354.4 1399.3,356.0 1400.3,356.1 1401.3,356.0 1402.3,357.6 1403.3,356.0 1404.3,354.0 1405.3,355.8 1406.3,356.2 1407.3,354.6 1408.3,353.9 1409.3,354.5 1410.3,357.8 1411.3,359.0 1412.3,356.5 1413.3,354.5 1414.3,353.7 1415.3,353.9 1416.3,354.7 1417.3,357.3 1418.3,360.0 1419.3,360.2 1420.3,358.2 1421.3,356.6 1422.3,356.7 1423.3,355.6 1424.3,355.4 1425.3,357.0 1426.3,358.9 1427.3,360.4 1428.3,358.6 1429.3,356.9 1430.3,356.7 1431.3,356.0 1432.3,358.0 1433.3,359.3 1434.3,357.1 1435.3,356.4 1436.3,356.8 1437.3,355.8 1438.3,355.6 1439.3,355.9 1440.3,355.6 1441.3,355.5 1442.3,356.6 1443.3,358.4 1444.3,358.5 1445.3,356.8 1446.3,354.7 1447.3,352.7 1448.3,353.2 1449.3,354.2 1450.3,353.5 1451.3,353.4 1452.3,354.1 1453.3,355.6 1454.3,355.9 1455.3,355.2 1456.3,355.1 1457.3,354.6 1458.3,354.9 1459.3,355.9 1460.3,356.2 1461.3,357.0 1462.3,356.9 1463.3,354.5 1464.3,352.3 1465.3,352.1 1466.3,353.3 1467.3,352.6 1468.3,351.9 1469.3,353.0 1470.3,353.9 1471.3,353.5 1472.3,353.1 1473.3,353.3 1474.3,353.1 1475.3,352.5 1476.3,351.6 1477.3,351.0 1478.3,351.7 1479.3,354.2 1480.3,355.6 1481.3,355.0 1482.3,353.6 1483.3,352.7 1484.3,352.1 1485.3,349.1 1486.3,347.1 1487.3,350.2 1488.3,354.1 1489.3,355.1 1490.3,354.4 1491.3,353.2 1492.3,354.5 1493.3,356.1 1494.3,355.0 1495.3,354.1 1496.3,353.5 1497.3,353.4 1498.3,353.1 1499.3,350.4 1500.3,349.1 1501.3,349.6 1502.3,350.6 1503.3,352.5 1504.3,351.4 1505.3,350.0 1506.3,352.0 1507.3,351.7 1508.3,350.0 1509.3,351.2 1510.3,350.8 1511.3,348.0 1512.3,347.3 1513.3,349.2 1514.3,351.3 1515.3,352.5 1516.3,351.3 1517.3,347.4 1518.3,344.1 1519.3,345.6 1520.3,350.0 1521.3,351.8 1522.3,351.0 1523.3,349.7 1524.3,349.6 1525.3,350.6 1526.3,350.9 1527.3,349.9 1528.3,348.1 1529.3,348.2 1530.3,350.3 1531.3,352.4 1532.3,353.0 1533.3,350.2 1534.3,347.5 1535.3,348.7 1536.3,353.2 1537.3,356.0 1538.3,354.5 1539.3,353.7 1540.3,356.3 1541.3,358.8 1542.3,359.3 1543.3,359.1 1544.3,358.5 1545.3,357.0 1546.3,357.0 1547.3,358.8 1548.3,358.1 1549.3,354.5 1550.3,354.7 1551.3,356.8 1552.3,356.7 1553.3,356.4 1554.3,355.8 1555.3,355.8 1556.3,358.0 1557.3,359.0 1558.3,357.8 1559.3,358.3 1560.3,358.6 1561.3,356.9 1562.3,355.6 1563.3,356.3 1564.3,359.8 1565.3,360.7 1566.3,359.7 1567.3,360.6 1568.3,358.7 1569.3,355.6 1570.3,356.9 1571.3,358.4 1572.3,358.8 1573.3,358.4 1574.3,358.1 1575.3,359.0 1576.3,360.1 1577.3,360.4 1578.3,356.9 1579.3,355.2 1580.3,358.9 1581.3,358.5 1582.3,354.9 1583.3,354.8 1584.3,356.8 1585.3,358.0 1586.3,358.3 1587.3,358.6 1588.3,358.6 1589.3,358.4 1590.3,356.8 1591.3,356.1 1592.3,357.7 1593.3,358.4 1594.3,357.3 1595.3,355.2 1596.3,355.0 1597.3,358.2 1598.3,360.9 1599.3,358.8 1600.3,353.6 1601.3,353.6 1602.3,358.8 1603.3,359.1 1604.3,357.3 1605.3,359.3 1606.3,361.8 1607.3,362.1 1608.3,359.8 1609.3,358.3 1610.3,358.2 1611.3,356.7 1612.3,356.0 1613.3,356.2 1614.3,355.9 1615.3,355.1 1616.3,354.6 1617.3,356.1 1618.3,358.3 1619.3,358.8 1620.3,358.8" fill="none" stroke="#ff0000" stroke-width="6" stroke-linejoin="round" stroke-linecap="round"/>
<path d="M258.10,182.90 L269.20,203.10 L247.00,203.10 Z" fill="#ff00ff"/>
<path d="M403.60,276.50 L414.70,296.70 L392.50,296.70 Z" fill="#ff00ff"/>
<path d="M840.40,260.80 L851.50,281.00 L829.30,281.00 Z" fill="#ff00ff"/>
<path d="M1105.40,260.80 L1116.50,281.00 L1094.30,281.00 Z" fill="#ff00ff"/>
<path d="M1503.60,306.80 L1514.70,327.00 L1492.50,327.00 Z" fill="#ff00ff"/>
<ellipse cx="529.8" cy="320.1" rx="7.4" ry="7.6" fill="#000080"/>
<ellipse cx="714" cy="320" rx="7.4" ry="7.6" fill="#000080"/>
<ellipse cx="1312.8" cy="320.1" rx="7.4" ry="7.6" fill="#000080"/>
<rect x="651.8" y="312.1" width="16" height="16.4" fill="#ff0000"/>
<path d="M522.70,745.20 L525.19,752.87 L533.26,752.87 L526.73,757.61 L529.22,765.28 L522.70,760.54 L516.18,765.28 L518.67,757.61 L512.14,752.87 L520.21,752.87Z" fill="#000"/>
<path d="M766.40,696.50 L768.89,704.17 L776.96,704.17 L770.43,708.91 L772.92,716.58 L766.40,711.84 L759.88,716.58 L762.37,708.91 L755.84,704.17 L763.91,704.17Z" fill="#000"/>
<path d="M1102.40,790.00 L1104.89,797.67 L1112.96,797.67 L1106.43,802.41 L1108.92,810.08 L1102.40,805.34 L1095.88,810.08 L1098.37,802.41 L1091.84,797.67 L1099.91,797.67Z" fill="#000"/>
<path d="M1394.80,758.30 L1397.29,765.97 L1405.36,765.97 L1398.83,770.71 L1401.32,778.38 L1394.80,773.64 L1388.28,778.38 L1390.77,770.71 L1384.24,765.97 L1392.31,765.97Z" fill="#000"/>
<path d="M306.50,65.00 L316.85,84.70 L296.15,84.70 Z" fill="#ff00ff"/>
<ellipse cx="542.3" cy="77.5" rx="7.4" ry="7.6" fill="#000080"/>
<rect x="298.2" y="137.4" width="16.2" height="16.4" fill="#ff0000"/>
<path d="M523.30,134.80 L525.72,142.26 L533.57,142.26 L527.22,146.87 L529.65,154.34 L523.30,149.73 L516.95,154.34 L519.38,146.87 L513.03,142.26 L520.88,142.26Z" fill="#000"/>
<rect x="155.5" y="41.4" width="1467.5" height="1133.2" fill="none" stroke="#000" stroke-width="4.6" stroke-linejoin="miter"/>
<path d="M155.5,1174.6 V1186.6 M308.4,1174.6 V1197.6 M461.2,1174.6 V1186.6 M614.0,1174.6 V1197.6 M766.9,1174.6 V1186.6 M919.8,1174.6 V1197.6 M1072.6,1174.6 V1186.6 M1225.5,1174.6 V1197.6 M1378.3,1174.6 V1186.6 M1531.2,1174.6 V1197.6" stroke="#000" stroke-width="4.6" stroke-linecap="round" fill="none"/>
<text transform="translate(364.31 92.70) scale(0.9726 1.0361)" font-family="'Liberation Sans', Arial, Helvetica, sans-serif" font-size="43">CeO</text>
<text transform="translate(448.66 110.00) scale(1.0696 1.0743)" font-family="'Liberation Sans', Arial, Helvetica, sans-serif" font-size="25">2</text>
<text transform="translate(600.49 92.70) scale(0.9737 1.0361)" font-family="'Liberation Sans', Arial, Helvetica, sans-serif" font-size="43">NiO</text>
<text transform="translate(364.55 161.30) scale(0.9577 1.0513)" font-family="'Liberation Sans', Arial, Helvetica, sans-serif" font-size="43">Ni</text>
<text transform="translate(402.68 178.60) scale(1.0522 1.0857)" font-family="'Liberation Sans', Arial, Helvetica, sans-serif" font-size="25">2</text>
<text transform="translate(416.26 161.30) scale(1.0391 1.0513)" font-family="'Liberation Sans', Arial, Helvetica, sans-serif" font-size="43">P</text>
<text transform="translate(581.49 161.30) scale(0.9462 1.0513)" font-family="'Liberation Sans', Arial, Helvetica, sans-serif" font-size="43">NiAl</text>
<text transform="translate(655.80 178.60) scale(1.0435 1.0857)" font-family="'Liberation Sans', Arial, Helvetica, sans-serif" font-size="25">2</text>
<text transform="translate(669.48 161.30) scale(1.0102 1.0513)" font-family="'Liberation Sans', Arial, Helvetica, sans-serif" font-size="43">O</text>
<text transform="translate(701.59 178.60) scale(1.0275 1.1014)" font-family="'Liberation Sans', Arial, Helvetica, sans-serif" font-size="25">4</text>
<text transform="translate(1385.86 239.00) scale(0.9349 1.0508)" font-family="'Liberation Sans', Arial, Helvetica, sans-serif" font-size="48" font-weight="bold" fill="#ff0000">Ni</text>
<text transform="translate(1429.51 257.60) scale(0.9857 1.0370)" font-family="'Liberation Sans', Arial, Helvetica, sans-serif" font-size="29" font-weight="bold" fill="#ff0000">2</text>
<text transform="translate(1444.24 239.00) scale(0.9427 1.0508)" font-family="'Liberation Sans', Arial, Helvetica, sans-serif" font-size="48" font-weight="bold" fill="#ff0000">P/CeO</text>
<text transform="translate(1576.29 257.60) scale(1.0071 1.0370)" font-family="'Liberation Sans', Arial, Helvetica, sans-serif" font-size="29" font-weight="bold" fill="#ff0000">2</text>
<text transform="translate(1293.23 458.90) scale(0.9446 1.0447)" font-family="'Liberation Sans', Arial, Helvetica, sans-serif" font-size="48" font-weight="bold" fill="#008080">Ni</text>
<text transform="translate(1337.52 477.60) scale(0.9786 1.0420)" font-family="'Liberation Sans', Arial, Helvetica, sans-serif" font-size="29" font-weight="bold" fill="#008080">2</text>
<text transform="translate(1352.45 458.90) scale(0.9385 1.0447)" font-family="'Liberation Sans', Arial, Helvetica, sans-serif" font-size="48" font-weight="bold" fill="#008080">P/SiO</text>
<text transform="translate(1469.20 477.60) scale(1.0000 1.0420)" font-family="'Liberation Sans', Arial, Helvetica, sans-serif" font-size="29" font-weight="bold" fill="#008080">2</text>
<text transform="translate(1485.03 458.90) scale(0.8970 1.0447)" font-family="'Liberation Sans', Arial, Helvetica, sans-serif" font-size="48" font-weight="bold" fill="#008080">-Al</text>
<text transform="translate(1541.41 477.60) scale(0.9857 1.0420)" font-family="'Liberation Sans', Arial, Helvetica, sans-serif" font-size="29" font-weight="bold" fill="#008080">2</text>
<text transform="translate(1555.77 458.90) scale(1.0165 1.0447)" font-family="'Liberation Sans', Arial, Helvetica, sans-serif" font-size="48" font-weight="bold" fill="#008080">O</text>
<text transform="translate(1590.69 477.60) scale(0.9474 1.0420)" font-family="'Liberation Sans', Arial, Helvetica, sans-serif" font-size="29" font-weight="bold" fill="#008080">3</text>
<text transform="translate(1385.59 692.00) scale(0.9253 1.0387)" font-family="'Liberation Sans', Arial, Helvetica, sans-serif" font-size="48" font-weight="bold" fill="#ff8000">Ni</text>
<text transform="translate(1428.98 711.00) scale(1.0214 1.0469)" font-family="'Liberation Sans', Arial, Helvetica, sans-serif" font-size="29" font-weight="bold" fill="#ff8000">2</text>
<text transform="translate(1443.94 692.00) scale(0.9095 1.0387)" font-family="'Liberation Sans', Arial, Helvetica, sans-serif" font-size="48" font-weight="bold" fill="#ff8000">P/Al</text>
<text transform="translate(1527.69 711.00) scale(1.0071 1.0469)" font-family="'Liberation Sans', Arial, Helvetica, sans-serif" font-size="29" font-weight="bold" fill="#ff8000">2</text>
<text transform="translate(1542.27 692.00) scale(1.0165 1.0387)" font-family="'Liberation Sans', Arial, Helvetica, sans-serif" font-size="48" font-weight="bold" fill="#ff8000">O</text>
<text transform="translate(1577.19 711.00) scale(0.9474 1.0469)" font-family="'Liberation Sans', Arial, Helvetica, sans-serif" font-size="29" font-weight="bold" fill="#ff8000">3</text>
<text transform="translate(1477.13 974.70) scale(0.9356 1.0205)" font-family="'Liberation Sans', Arial, Helvetica, sans-serif" font-size="48" font-weight="bold" fill="#a0a0a0">Al</text>
<text transform="translate(1520.89 994.00) scale(1.0143 1.0370)" font-family="'Liberation Sans', Arial, Helvetica, sans-serif" font-size="29" font-weight="bold" fill="#a0a0a0">2</text>
<text transform="translate(1535.60 974.70) scale(0.9985 1.0205)" font-family="'Liberation Sans', Arial, Helvetica, sans-serif" font-size="48" font-weight="bold" fill="#a0a0a0">O</text>
<text transform="translate(1569.98 994.00) scale(0.9544 1.0370)" font-family="'Liberation Sans', Arial, Helvetica, sans-serif" font-size="29" font-weight="bold" fill="#a0a0a0">3</text>
<text transform="translate(274.51 1263.98) scale(0.9553 1.0301)" font-family="'Liberation Sans', Arial, Helvetica, sans-serif" font-size="66">30</text>
<text transform="translate(885.73 1263.98) scale(0.9721 1.0301)" font-family="'Liberation Sans', Arial, Helvetica, sans-serif" font-size="66">50</text>
<text transform="translate(579.54 1263.98) scale(0.9762 1.0301)" font-family="'Liberation Sans', Arial, Helvetica, sans-serif" font-size="66">40</text>
<text transform="translate(1496.69 1263.98) scale(0.9755 1.0301)" font-family="'Liberation Sans', Arial, Helvetica, sans-serif" font-size="66">70</text>
<text transform="translate(91.50 909.96) rotate(-90) scale(1.0010 1.0377)" font-family="'Liberation Sans', Arial, Helvetica, sans-serif" font-size="79">Intensity (a.u.)</text>
<text transform="translate(1190.20 1263.98) scale(0.9526 1.0301)" font-family="'Liberation Sans', Arial, Helvetica, sans-serif" font-size="66">60</text>
<text transform="translate(791.02 1385.80) scale(1.0444 1.0281)" font-family="'Liberation Sans', Arial, Helvetica, sans-serif" font-size="79">2</text>
<text transform="translate(833.94 1386.16) scale(1.0208 0.9921)" font-family="'Liberation Serif', 'Times New Roman', serif" font-size="75">Θ</text>
<text transform="translate(904.62 1385.95) scale(0.9966 1.0088)" font-family="'Liberation Sans', Arial, Helvetica, sans-serif" font-size="79">(°)</text>
</svg>
</body></html>
